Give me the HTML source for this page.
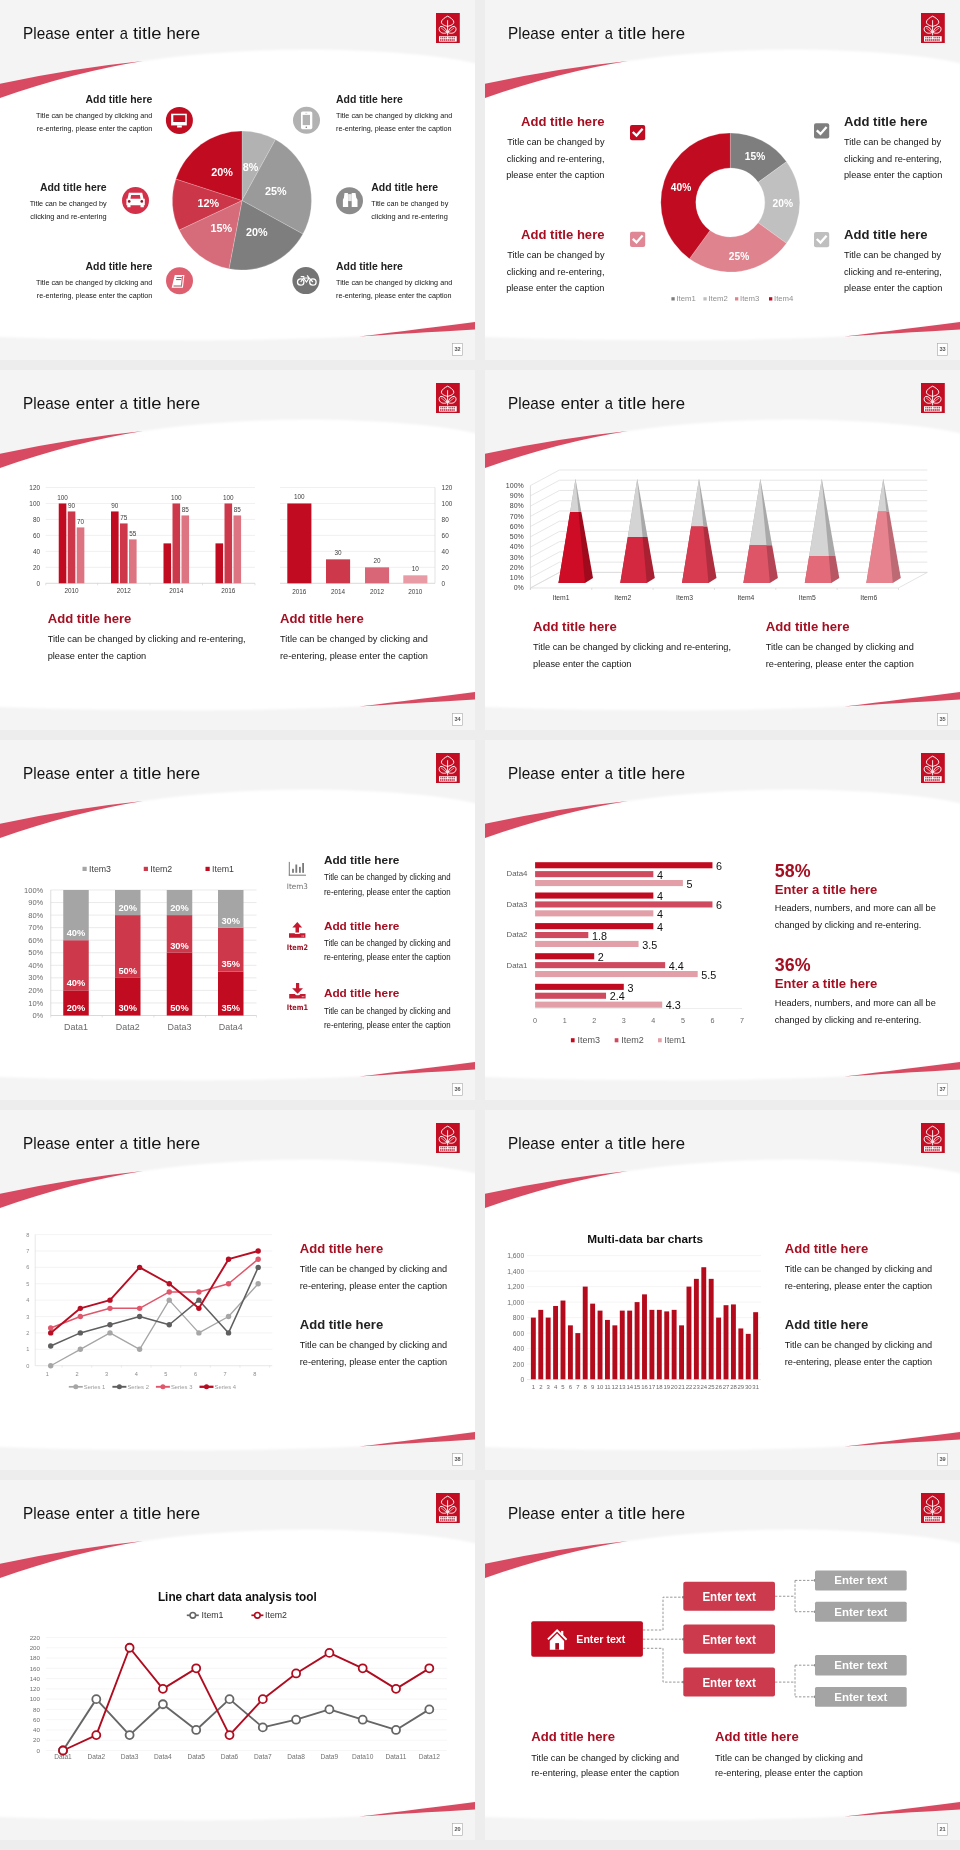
<!DOCTYPE html>
<html><head><meta charset="utf-8"><title>Slides</title><style>
html,body{margin:0;padding:0;}
body{width:960px;height:1850px;background:#ededed;position:relative;overflow:hidden;}
.s{position:absolute;display:block;will-change:transform;}
</style></head><body>
<svg class="s" style="left:0px;top:0px" width="475" height="360" viewBox="0 0 475 360"><rect x="0.00" y="0.00" width="475.00" height="360.00" fill="#f4f4f4"/><defs><filter id="sb32" x="-5%" y="-5%" width="110%" height="110%"><feGaussianBlur stdDeviation="0.9"/></filter></defs><path d="M-10,100.6 L0,98 Q75,72 143,61.1 C200,52 270,49 320,49.5 C380,50.5 440,55 475,63.2 L485,66 L485,320.7 L475,322 C430,328 390,334 359,336.6 C250,342 120,341 0,337 L-10,336.5 Z" fill="#ffffff" filter="url(#sb32)"/><path d="M0,83.7 Q75,68 143,61.1 Q75,72 0,98 Z" fill="#d84a61"/><path d="M359,336.6 C400,331.5 440,326.5 475,322 L475,329.6 C430,332.3 390,334.6 359,336.6 Z" fill="#d84a61"/><text y="38.75" font-size="17" fill="#111111" font-family="'Liberation Sans', Arial, sans-serif"><tspan x="23.1" textLength="46.8" lengthAdjust="spacingAndGlyphs">Please</tspan> <tspan x="75.7" textLength="38.75" lengthAdjust="spacingAndGlyphs">enter</tspan> <tspan x="119.7" textLength="8.2" lengthAdjust="spacingAndGlyphs">a</tspan> <tspan x="132.9" textLength="28.6" lengthAdjust="spacingAndGlyphs">title</tspan> <tspan x="166.4" textLength="33.6" lengthAdjust="spacingAndGlyphs">here</tspan></text><g transform="translate(436,13)"><rect x="0.00" y="0.00" width="23.80" height="30.00" fill="#c30d23"/><path d="M11.6,3.2 C9.0,4.4 5.6,6.6 5.3999999999999995,9 C5.3,11.2 8.2,12.6 11.6,13.4 C15.0,12.6 17.9,11.2 17.8,9 C17.6,6.6 14.2,4.4 11.6,3.2 Z" fill="none" fill="none" stroke="#ffffff" stroke-width="0.95"/><path d="M11.0,19.6 C8.1,21 4.0,20.2 3.1999999999999993,16.8 C3.0,14.8 4.0,13.3 5.0,13.3 C8.0,13.6 10.5,16 11.0,19.6 Z" fill="none" fill="none" stroke="#ffffff" stroke-width="0.95"/><path d="M12.2,19.6 C15.1,21 19.2,20.2 20.0,16.8 C20.2,14.8 19.2,13.3 18.2,13.3 C15.2,13.6 12.7,16 12.2,19.6 Z" fill="none" fill="none" stroke="#ffffff" stroke-width="0.95"/><line x1="11.60" y1="7.20" x2="11.60" y2="22.40" stroke="#ffffff" stroke-width="0.9"/><line x1="4.80" y1="14.60" x2="10.40" y2="19.20" stroke="#ffffff" stroke-width="0.6"/><line x1="18.40" y1="14.60" x2="12.80" y2="19.20" stroke="#ffffff" stroke-width="0.6"/><rect x="3.00" y="23.20" width="17.70" height="5.40" fill="#ffffff"/><rect x="4.2" y="23.8" width="1.3" height="1.6" fill="#c9475a"/><rect x="6.0" y="23.8" width="1.3" height="1.6" fill="#c9475a"/><rect x="7.8" y="23.8" width="1.3" height="1.6" fill="#c9475a"/><rect x="9.6" y="23.8" width="1.3" height="1.6" fill="#c9475a"/><rect x="12.4" y="23.8" width="1.3" height="1.6" fill="#c9475a"/><rect x="14.2" y="23.8" width="1.3" height="1.6" fill="#c9475a"/><rect x="16.0" y="23.8" width="1.3" height="1.6" fill="#c9475a"/><rect x="17.8" y="23.8" width="1.3" height="1.6" fill="#c9475a"/><rect x="4.0" y="26.1" width="1.5" height="1.8" fill="#c9475a"/><rect x="5.9" y="26.1" width="1.5" height="1.8" fill="#c9475a"/><rect x="7.8" y="26.1" width="1.5" height="1.8" fill="#c9475a"/><rect x="9.7" y="26.1" width="1.5" height="1.8" fill="#c9475a"/><rect x="11.6" y="26.1" width="1.5" height="1.8" fill="#c9475a"/><rect x="13.5" y="26.1" width="1.5" height="1.8" fill="#c9475a"/><rect x="15.4" y="26.1" width="1.5" height="1.8" fill="#c9475a"/><rect x="17.3" y="26.1" width="1.5" height="1.8" fill="#c9475a"/></g><rect x="452.60" y="343.40" width="9.90" height="12.00" fill="#ffffff" stroke="#a8a8a8" stroke-width="0.6"/><text x="457.55" y="350.90" font-size="5.6" font-weight="bold" text-anchor="middle" fill="#555555" font-family="'Liberation Sans', Arial, sans-serif">32</text><path d="M242.00,200.50 L242.00,131.00 A69.5,69.5 0 0 1 275.48,139.60 Z" fill="#b2b2b2" stroke="#ffffff" stroke-width="0.4" stroke-opacity="0.5"/><path d="M242.00,200.50 L275.48,139.60 A69.5,69.5 0 0 1 302.90,233.98 Z" fill="#9a9a9a" stroke="#ffffff" stroke-width="0.4" stroke-opacity="0.5"/><path d="M242.00,200.50 L302.90,233.98 A69.5,69.5 0 0 1 228.98,268.77 Z" fill="#7e7e7e" stroke="#ffffff" stroke-width="0.4" stroke-opacity="0.5"/><path d="M242.00,200.50 L228.98,268.77 A69.5,69.5 0 0 1 179.11,230.09 Z" fill="#d66b79" stroke="#ffffff" stroke-width="0.4" stroke-opacity="0.5"/><path d="M242.00,200.50 L179.11,230.09 A69.5,69.5 0 0 1 175.90,179.02 Z" fill="#cb3749" stroke="#ffffff" stroke-width="0.4" stroke-opacity="0.5"/><path d="M242.00,200.50 L175.90,179.02 A69.5,69.5 0 0 1 242.00,131.00 Z" fill="#c00b20" stroke="#ffffff" stroke-width="0.4" stroke-opacity="0.5"/><text x="222.00" y="175.80" font-size="10.8" font-weight="bold" text-anchor="middle" fill="#ffffff" font-family="'Liberation Sans', Arial, sans-serif">20%</text><text x="250.50" y="170.80" font-size="10.8" font-weight="bold" text-anchor="middle" fill="#ffffff" font-family="'Liberation Sans', Arial, sans-serif">8%</text><text x="275.80" y="194.80" font-size="10.8" font-weight="bold" text-anchor="middle" fill="#ffffff" font-family="'Liberation Sans', Arial, sans-serif">25%</text><text x="208.30" y="206.60" font-size="10.8" font-weight="bold" text-anchor="middle" fill="#ffffff" font-family="'Liberation Sans', Arial, sans-serif">12%</text><text x="221.20" y="232.30" font-size="10.8" font-weight="bold" text-anchor="middle" fill="#ffffff" font-family="'Liberation Sans', Arial, sans-serif">15%</text><text x="256.70" y="236.30" font-size="10.8" font-weight="bold" text-anchor="middle" fill="#ffffff" font-family="'Liberation Sans', Arial, sans-serif">20%</text><circle cx="179.40" cy="120.40" r="13.50" fill="#c10d22"/><g transform="translate(179.40,120.40)"><rect x="-8.30" y="-6.70" width="15.70" height="11.70" fill="#ffffff"/><rect x="-6.10" y="-5.20" width="12.00" height="6.80" fill="#c10d22"/><rect x="-2.30" y="5.00" width="4.70" height="2.10" fill="#ffffff"/></g><circle cx="135.50" cy="200.50" r="13.50" fill="#d3314a"/><g transform="translate(135.50,200.50)"><path d="M-6.6,-7.8 L6.7,-7.8 L8,-1.8 L9.3,-1.8 L9.3,4.7 L8.3,4.7 L8.3,6.7 L5,6.7 L5,4.7 L-5,4.7 L-5,6.7 L-8.2,6.7 L-8.2,4.7 L-9.1,4.7 L-9.1,-1.8 L-8,-1.8 Z" fill="#ffffff"/><path d="M-4.4,-5.5 L4.4,-5.5 L5,-1.8 L-5,-1.8 Z" fill="#d3314a"/><circle cx="-6.30" cy="0.90" r="1.35" fill="#8e1a2a"/><circle cx="6.30" cy="0.90" r="1.35" fill="#8e1a2a"/></g><circle cx="179.50" cy="280.70" r="13.50" fill="#de5f70"/><g transform="translate(179.50,280.70)"><path d="M-4.7,-5.7 L4.9,-5.7 L3.4,7.1 L-7.8,7.1 Z" fill="#ffffff"/><path d="M2.5,-4.6 L3.7,-4.6 L2.4,6.0 L1.2,6.0 Z" fill="#de5f70"/><line x1="-3.00" y1="-3.30" x2="2.30" y2="-3.30" stroke="#7a2a36" stroke-width="0.8"/><line x1="-3.40" y1="-1.10" x2="1.70" y2="-1.10" stroke="#7a2a36" stroke-width="0.8"/><line x1="-6.00" y1="5.30" x2="1.30" y2="5.30" stroke="#7a2a36" stroke-width="0.8"/></g><circle cx="306.50" cy="120.30" r="13.50" fill="#b2b2b2"/><g transform="translate(306.50,120.30)"><rect x="-5.50" y="-8.80" width="11.30" height="17.70" fill="#ffffff" rx="1.6"/><rect x="-3.80" y="-5.40" width="7.30" height="10.20" fill="#b2b2b2"/><circle cx="-0.20" cy="7.00" r="0.80" fill="#777777"/><line x1="-1.20" y1="-7.00" x2="0.80" y2="-7.00" stroke="#aaaaaa" stroke-width="0.5"/></g><circle cx="349.50" cy="200.70" r="13.50" fill="#8c8c8c"/><g transform="translate(349.50,200.70)"><path d="M-5,-7.8 L-1.6,-7.8 L-1.3,6.3 L-6.6,6.3 L-6.6,-1 L-5.6,-3 Z" fill="#ffffff"/><path d="M2.2,-7.8 L6,-7.8 L6.8,-3 L8,-1 L8,6.3 L2.2,6.3 Z" fill="#ffffff"/><rect x="-1.40" y="-6.60" width="3.70" height="7.00" fill="#e8e8e8"/></g><circle cx="305.90" cy="280.60" r="13.50" fill="#747474"/><g transform="translate(305.90,280.60)"><circle cx="-5.2" cy="1.4" r="3.2" fill="none" stroke="#ffffff" stroke-width="1.3"/><circle cx="7" cy="1.4" r="3.2" fill="none" stroke="#ffffff" stroke-width="1.3"/><path d="M-5.2,1.4 L-2.4,-2.6 L3.2,-2.6 L7,1.4 M-2.4,-2.6 L0.6,1.4 L3.2,-2.6 M-5.2,-3.9 L-1.6,-3.9 M1.2,-5.3 L3.2,-2.6" fill="none" stroke="#ffffff" stroke-width="1.2"/></g><text x="152.30" y="102.90" font-size="10.4" font-weight="bold" text-anchor="end" fill="#222222" textLength="66.8" lengthAdjust="spacingAndGlyphs" font-family="'Liberation Sans', Arial, sans-serif">Add title here</text><text x="152.30" y="117.90" font-size="7.7" text-anchor="end" fill="#161616" textLength="116.2" lengthAdjust="spacingAndGlyphs" font-family="'Liberation Sans', Arial, sans-serif">Title can be changed by clicking and</text><text x="152.30" y="131.10" font-size="7.7" text-anchor="end" fill="#161616" textLength="115.5" lengthAdjust="spacingAndGlyphs" font-family="'Liberation Sans', Arial, sans-serif">re-entering, please enter the caption</text><text x="106.70" y="191.00" font-size="10.4" font-weight="bold" text-anchor="end" fill="#222222" textLength="66.8" lengthAdjust="spacingAndGlyphs" font-family="'Liberation Sans', Arial, sans-serif">Add title here</text><text x="106.70" y="206.00" font-size="7.7" text-anchor="end" fill="#161616" textLength="77.0" lengthAdjust="spacingAndGlyphs" font-family="'Liberation Sans', Arial, sans-serif">Title can be changed by</text><text x="106.70" y="219.20" font-size="7.7" text-anchor="end" fill="#161616" textLength="76.5" lengthAdjust="spacingAndGlyphs" font-family="'Liberation Sans', Arial, sans-serif">clicking and re-entering</text><text x="152.30" y="269.70" font-size="10.4" font-weight="bold" text-anchor="end" fill="#222222" textLength="66.8" lengthAdjust="spacingAndGlyphs" font-family="'Liberation Sans', Arial, sans-serif">Add title here</text><text x="152.30" y="284.70" font-size="7.7" text-anchor="end" fill="#161616" textLength="116.2" lengthAdjust="spacingAndGlyphs" font-family="'Liberation Sans', Arial, sans-serif">Title can be changed by clicking and</text><text x="152.30" y="297.90" font-size="7.7" text-anchor="end" fill="#161616" textLength="115.5" lengthAdjust="spacingAndGlyphs" font-family="'Liberation Sans', Arial, sans-serif">re-entering, please enter the caption</text><text x="336.00" y="102.90" font-size="10.4" font-weight="bold" fill="#222222" textLength="66.8" lengthAdjust="spacingAndGlyphs" font-family="'Liberation Sans', Arial, sans-serif">Add title here</text><text x="336.00" y="117.90" font-size="7.7" fill="#161616" textLength="116.2" lengthAdjust="spacingAndGlyphs" font-family="'Liberation Sans', Arial, sans-serif">Title can be changed by clicking and</text><text x="336.00" y="131.10" font-size="7.7" fill="#161616" textLength="115.5" lengthAdjust="spacingAndGlyphs" font-family="'Liberation Sans', Arial, sans-serif">re-entering, please enter the caption</text><text x="371.30" y="191.00" font-size="10.4" font-weight="bold" fill="#222222" textLength="66.8" lengthAdjust="spacingAndGlyphs" font-family="'Liberation Sans', Arial, sans-serif">Add title here</text><text x="371.30" y="206.00" font-size="7.7" fill="#161616" textLength="77.0" lengthAdjust="spacingAndGlyphs" font-family="'Liberation Sans', Arial, sans-serif">Title can be changed by</text><text x="371.30" y="219.20" font-size="7.7" fill="#161616" textLength="76.5" lengthAdjust="spacingAndGlyphs" font-family="'Liberation Sans', Arial, sans-serif">clicking and re-entering</text><text x="336.00" y="269.70" font-size="10.4" font-weight="bold" fill="#222222" textLength="66.8" lengthAdjust="spacingAndGlyphs" font-family="'Liberation Sans', Arial, sans-serif">Add title here</text><text x="336.00" y="284.70" font-size="7.7" fill="#161616" textLength="116.2" lengthAdjust="spacingAndGlyphs" font-family="'Liberation Sans', Arial, sans-serif">Title can be changed by clicking and</text><text x="336.00" y="297.90" font-size="7.7" fill="#161616" textLength="115.5" lengthAdjust="spacingAndGlyphs" font-family="'Liberation Sans', Arial, sans-serif">re-entering, please enter the caption</text></svg>
<svg class="s" style="left:485px;top:0px" width="475" height="360" viewBox="0 0 475 360"><rect x="0.00" y="0.00" width="475.00" height="360.00" fill="#f4f4f4"/><defs><filter id="sb33" x="-5%" y="-5%" width="110%" height="110%"><feGaussianBlur stdDeviation="0.9"/></filter></defs><path d="M-10,100.6 L0,98 Q75,72 143,61.1 C200,52 270,49 320,49.5 C380,50.5 440,55 475,63.2 L485,66 L485,320.7 L475,322 C430,328 390,334 359,336.6 C250,342 120,341 0,337 L-10,336.5 Z" fill="#ffffff" filter="url(#sb33)"/><path d="M0,83.7 Q75,68 143,61.1 Q75,72 0,98 Z" fill="#d84a61"/><path d="M359,336.6 C400,331.5 440,326.5 475,322 L475,329.6 C430,332.3 390,334.6 359,336.6 Z" fill="#d84a61"/><text y="38.75" font-size="17" fill="#111111" font-family="'Liberation Sans', Arial, sans-serif"><tspan x="23.1" textLength="46.8" lengthAdjust="spacingAndGlyphs">Please</tspan> <tspan x="75.7" textLength="38.75" lengthAdjust="spacingAndGlyphs">enter</tspan> <tspan x="119.7" textLength="8.2" lengthAdjust="spacingAndGlyphs">a</tspan> <tspan x="132.9" textLength="28.6" lengthAdjust="spacingAndGlyphs">title</tspan> <tspan x="166.4" textLength="33.6" lengthAdjust="spacingAndGlyphs">here</tspan></text><g transform="translate(436,13)"><rect x="0.00" y="0.00" width="23.80" height="30.00" fill="#c30d23"/><path d="M11.6,3.2 C9.0,4.4 5.6,6.6 5.3999999999999995,9 C5.3,11.2 8.2,12.6 11.6,13.4 C15.0,12.6 17.9,11.2 17.8,9 C17.6,6.6 14.2,4.4 11.6,3.2 Z" fill="none" fill="none" stroke="#ffffff" stroke-width="0.95"/><path d="M11.0,19.6 C8.1,21 4.0,20.2 3.1999999999999993,16.8 C3.0,14.8 4.0,13.3 5.0,13.3 C8.0,13.6 10.5,16 11.0,19.6 Z" fill="none" fill="none" stroke="#ffffff" stroke-width="0.95"/><path d="M12.2,19.6 C15.1,21 19.2,20.2 20.0,16.8 C20.2,14.8 19.2,13.3 18.2,13.3 C15.2,13.6 12.7,16 12.2,19.6 Z" fill="none" fill="none" stroke="#ffffff" stroke-width="0.95"/><line x1="11.60" y1="7.20" x2="11.60" y2="22.40" stroke="#ffffff" stroke-width="0.9"/><line x1="4.80" y1="14.60" x2="10.40" y2="19.20" stroke="#ffffff" stroke-width="0.6"/><line x1="18.40" y1="14.60" x2="12.80" y2="19.20" stroke="#ffffff" stroke-width="0.6"/><rect x="3.00" y="23.20" width="17.70" height="5.40" fill="#ffffff"/><rect x="4.2" y="23.8" width="1.3" height="1.6" fill="#c9475a"/><rect x="6.0" y="23.8" width="1.3" height="1.6" fill="#c9475a"/><rect x="7.8" y="23.8" width="1.3" height="1.6" fill="#c9475a"/><rect x="9.6" y="23.8" width="1.3" height="1.6" fill="#c9475a"/><rect x="12.4" y="23.8" width="1.3" height="1.6" fill="#c9475a"/><rect x="14.2" y="23.8" width="1.3" height="1.6" fill="#c9475a"/><rect x="16.0" y="23.8" width="1.3" height="1.6" fill="#c9475a"/><rect x="17.8" y="23.8" width="1.3" height="1.6" fill="#c9475a"/><rect x="4.0" y="26.1" width="1.5" height="1.8" fill="#c9475a"/><rect x="5.9" y="26.1" width="1.5" height="1.8" fill="#c9475a"/><rect x="7.8" y="26.1" width="1.5" height="1.8" fill="#c9475a"/><rect x="9.7" y="26.1" width="1.5" height="1.8" fill="#c9475a"/><rect x="11.6" y="26.1" width="1.5" height="1.8" fill="#c9475a"/><rect x="13.5" y="26.1" width="1.5" height="1.8" fill="#c9475a"/><rect x="15.4" y="26.1" width="1.5" height="1.8" fill="#c9475a"/><rect x="17.3" y="26.1" width="1.5" height="1.8" fill="#c9475a"/></g><rect x="452.60" y="343.40" width="9.90" height="12.00" fill="#ffffff" stroke="#a8a8a8" stroke-width="0.6"/><text x="457.55" y="350.90" font-size="5.6" font-weight="bold" text-anchor="middle" fill="#555555" font-family="'Liberation Sans', Arial, sans-serif">33</text><path d="M245.30,133.00 A69.5,69.5 0 0 1 301.53,161.65 L273.21,182.22 A34.5,34.5 0 0 0 245.30,168.00 Z" fill="#7e7e7e" stroke="#ffffff" stroke-width="0.4" stroke-opacity="0.5"/><path d="M301.53,161.65 A69.5,69.5 0 0 1 301.53,243.35 L273.21,222.78 A34.5,34.5 0 0 0 273.21,182.22 Z" fill="#c0c0c0" stroke="#ffffff" stroke-width="0.4" stroke-opacity="0.5"/><path d="M301.53,243.35 A69.5,69.5 0 0 1 204.45,258.73 L225.02,230.41 A34.5,34.5 0 0 0 273.21,222.78 Z" fill="#df848f" stroke="#ffffff" stroke-width="0.4" stroke-opacity="0.5"/><path d="M204.45,258.73 A69.5,69.5 0 0 1 245.30,133.00 L245.30,168.00 A34.5,34.5 0 0 0 225.02,230.41 Z" fill="#c00b20" stroke="#ffffff" stroke-width="0.4" stroke-opacity="0.5"/><text x="270.00" y="160.00" font-size="10.2" font-weight="bold" text-anchor="middle" fill="#ffffff" font-family="'Liberation Sans', Arial, sans-serif">15%</text><text x="297.80" y="207.00" font-size="10.2" font-weight="bold" text-anchor="middle" fill="#ffffff" font-family="'Liberation Sans', Arial, sans-serif">20%</text><text x="254.00" y="259.50" font-size="10.2" font-weight="bold" text-anchor="middle" fill="#ffffff" font-family="'Liberation Sans', Arial, sans-serif">25%</text><text x="196.00" y="191.20" font-size="10.2" font-weight="bold" text-anchor="middle" fill="#ffffff" font-family="'Liberation Sans', Arial, sans-serif">40%</text><rect x="186.40" y="297.20" width="3.30" height="3.30" fill="#7e7e7e"/><text x="191.40" y="300.90" font-size="8" fill="#8f8f8f" textLength="19.4" lengthAdjust="spacingAndGlyphs" font-family="'Liberation Sans', Arial, sans-serif">Item1</text><rect x="218.40" y="297.20" width="3.30" height="3.30" fill="#c0c0c0"/><text x="223.40" y="300.90" font-size="8" fill="#8f8f8f" textLength="19.4" lengthAdjust="spacingAndGlyphs" font-family="'Liberation Sans', Arial, sans-serif">Item2</text><rect x="250.00" y="297.20" width="3.30" height="3.30" fill="#df848f"/><text x="255.00" y="300.90" font-size="8" fill="#8f8f8f" textLength="19.4" lengthAdjust="spacingAndGlyphs" font-family="'Liberation Sans', Arial, sans-serif">Item3</text><rect x="284.00" y="297.20" width="3.30" height="3.30" fill="#c00b20"/><text x="289.00" y="300.90" font-size="8" fill="#8f8f8f" textLength="19.4" lengthAdjust="spacingAndGlyphs" font-family="'Liberation Sans', Arial, sans-serif">Item4</text><text x="119.50" y="125.80" font-size="13.5" font-weight="bold" text-anchor="end" fill="#a50f22" textLength="83.5" lengthAdjust="spacingAndGlyphs" font-family="'Liberation Sans', Arial, sans-serif">Add title here</text><text x="119.50" y="145.00" font-size="9.4" text-anchor="end" fill="#161616" textLength="97.2" lengthAdjust="spacingAndGlyphs" font-family="'Liberation Sans', Arial, sans-serif">Title can be changed by</text><text x="119.50" y="161.60" font-size="9.4" text-anchor="end" fill="#161616" textLength="97.8" lengthAdjust="spacingAndGlyphs" font-family="'Liberation Sans', Arial, sans-serif">clicking and re-entering,</text><text x="119.50" y="178.20" font-size="9.4" text-anchor="end" fill="#161616" textLength="98.3" lengthAdjust="spacingAndGlyphs" font-family="'Liberation Sans', Arial, sans-serif">please enter the caption</text><text x="119.50" y="238.80" font-size="13.5" font-weight="bold" text-anchor="end" fill="#a50f22" textLength="83.5" lengthAdjust="spacingAndGlyphs" font-family="'Liberation Sans', Arial, sans-serif">Add title here</text><text x="119.50" y="258.00" font-size="9.4" text-anchor="end" fill="#161616" textLength="97.2" lengthAdjust="spacingAndGlyphs" font-family="'Liberation Sans', Arial, sans-serif">Title can be changed by</text><text x="119.50" y="274.60" font-size="9.4" text-anchor="end" fill="#161616" textLength="97.8" lengthAdjust="spacingAndGlyphs" font-family="'Liberation Sans', Arial, sans-serif">clicking and re-entering,</text><text x="119.50" y="291.20" font-size="9.4" text-anchor="end" fill="#161616" textLength="98.3" lengthAdjust="spacingAndGlyphs" font-family="'Liberation Sans', Arial, sans-serif">please enter the caption</text><text x="359.00" y="125.80" font-size="13.5" font-weight="bold" fill="#222222" textLength="83.5" lengthAdjust="spacingAndGlyphs" font-family="'Liberation Sans', Arial, sans-serif">Add title here</text><text x="359.00" y="145.00" font-size="9.4" fill="#161616" textLength="97.2" lengthAdjust="spacingAndGlyphs" font-family="'Liberation Sans', Arial, sans-serif">Title can be changed by</text><text x="359.00" y="161.60" font-size="9.4" fill="#161616" textLength="97.8" lengthAdjust="spacingAndGlyphs" font-family="'Liberation Sans', Arial, sans-serif">clicking and re-entering,</text><text x="359.00" y="178.20" font-size="9.4" fill="#161616" textLength="98.3" lengthAdjust="spacingAndGlyphs" font-family="'Liberation Sans', Arial, sans-serif">please enter the caption</text><text x="359.00" y="238.70" font-size="13.5" font-weight="bold" fill="#222222" textLength="83.5" lengthAdjust="spacingAndGlyphs" font-family="'Liberation Sans', Arial, sans-serif">Add title here</text><text x="359.00" y="257.90" font-size="9.4" fill="#161616" textLength="97.2" lengthAdjust="spacingAndGlyphs" font-family="'Liberation Sans', Arial, sans-serif">Title can be changed by</text><text x="359.00" y="274.50" font-size="9.4" fill="#161616" textLength="97.8" lengthAdjust="spacingAndGlyphs" font-family="'Liberation Sans', Arial, sans-serif">clicking and re-entering,</text><text x="359.00" y="291.10" font-size="9.4" fill="#161616" textLength="98.3" lengthAdjust="spacingAndGlyphs" font-family="'Liberation Sans', Arial, sans-serif">please enter the caption</text><rect x="145.00" y="125.00" width="15.20" height="15.20" fill="#c00b20" rx="2"/><path d="M148.60,132.80 L151.50,135.60 L156.80,129.60" fill="none" stroke="#ffffff" stroke-width="2.3" stroke-linecap="square"/><rect x="145.00" y="231.80" width="15.20" height="15.20" fill="#df8794" rx="2"/><path d="M148.60,239.60 L151.50,242.40 L156.80,236.40" fill="none" stroke="#ffffff" stroke-width="2.3" stroke-linecap="square"/><rect x="329.00" y="123.30" width="15.20" height="15.20" fill="#7f7f7f" rx="2"/><path d="M332.60,131.10 L335.50,133.90 L340.80,127.90" fill="none" stroke="#ffffff" stroke-width="2.3" stroke-linecap="square"/><rect x="329.00" y="232.00" width="15.20" height="15.20" fill="#bfbfbf" rx="2"/><path d="M332.60,239.80 L335.50,242.60 L340.80,236.60" fill="none" stroke="#ffffff" stroke-width="2.3" stroke-linecap="square"/></svg>
<svg class="s" style="left:0px;top:370px" width="475" height="360" viewBox="0 0 475 360"><rect x="0.00" y="0.00" width="475.00" height="360.00" fill="#f4f4f4"/><defs><filter id="sb34" x="-5%" y="-5%" width="110%" height="110%"><feGaussianBlur stdDeviation="0.9"/></filter></defs><path d="M-10,100.6 L0,98 Q75,72 143,61.1 C200,52 270,49 320,49.5 C380,50.5 440,55 475,63.2 L485,66 L485,320.7 L475,322 C430,328 390,334 359,336.6 C250,342 120,341 0,337 L-10,336.5 Z" fill="#ffffff" filter="url(#sb34)"/><path d="M0,83.7 Q75,68 143,61.1 Q75,72 0,98 Z" fill="#d84a61"/><path d="M359,336.6 C400,331.5 440,326.5 475,322 L475,329.6 C430,332.3 390,334.6 359,336.6 Z" fill="#d84a61"/><text y="38.75" font-size="17" fill="#111111" font-family="'Liberation Sans', Arial, sans-serif"><tspan x="23.1" textLength="46.8" lengthAdjust="spacingAndGlyphs">Please</tspan> <tspan x="75.7" textLength="38.75" lengthAdjust="spacingAndGlyphs">enter</tspan> <tspan x="119.7" textLength="8.2" lengthAdjust="spacingAndGlyphs">a</tspan> <tspan x="132.9" textLength="28.6" lengthAdjust="spacingAndGlyphs">title</tspan> <tspan x="166.4" textLength="33.6" lengthAdjust="spacingAndGlyphs">here</tspan></text><g transform="translate(436,13)"><rect x="0.00" y="0.00" width="23.80" height="30.00" fill="#c30d23"/><path d="M11.6,3.2 C9.0,4.4 5.6,6.6 5.3999999999999995,9 C5.3,11.2 8.2,12.6 11.6,13.4 C15.0,12.6 17.9,11.2 17.8,9 C17.6,6.6 14.2,4.4 11.6,3.2 Z" fill="none" fill="none" stroke="#ffffff" stroke-width="0.95"/><path d="M11.0,19.6 C8.1,21 4.0,20.2 3.1999999999999993,16.8 C3.0,14.8 4.0,13.3 5.0,13.3 C8.0,13.6 10.5,16 11.0,19.6 Z" fill="none" fill="none" stroke="#ffffff" stroke-width="0.95"/><path d="M12.2,19.6 C15.1,21 19.2,20.2 20.0,16.8 C20.2,14.8 19.2,13.3 18.2,13.3 C15.2,13.6 12.7,16 12.2,19.6 Z" fill="none" fill="none" stroke="#ffffff" stroke-width="0.95"/><line x1="11.60" y1="7.20" x2="11.60" y2="22.40" stroke="#ffffff" stroke-width="0.9"/><line x1="4.80" y1="14.60" x2="10.40" y2="19.20" stroke="#ffffff" stroke-width="0.6"/><line x1="18.40" y1="14.60" x2="12.80" y2="19.20" stroke="#ffffff" stroke-width="0.6"/><rect x="3.00" y="23.20" width="17.70" height="5.40" fill="#ffffff"/><rect x="4.2" y="23.8" width="1.3" height="1.6" fill="#c9475a"/><rect x="6.0" y="23.8" width="1.3" height="1.6" fill="#c9475a"/><rect x="7.8" y="23.8" width="1.3" height="1.6" fill="#c9475a"/><rect x="9.6" y="23.8" width="1.3" height="1.6" fill="#c9475a"/><rect x="12.4" y="23.8" width="1.3" height="1.6" fill="#c9475a"/><rect x="14.2" y="23.8" width="1.3" height="1.6" fill="#c9475a"/><rect x="16.0" y="23.8" width="1.3" height="1.6" fill="#c9475a"/><rect x="17.8" y="23.8" width="1.3" height="1.6" fill="#c9475a"/><rect x="4.0" y="26.1" width="1.5" height="1.8" fill="#c9475a"/><rect x="5.9" y="26.1" width="1.5" height="1.8" fill="#c9475a"/><rect x="7.8" y="26.1" width="1.5" height="1.8" fill="#c9475a"/><rect x="9.7" y="26.1" width="1.5" height="1.8" fill="#c9475a"/><rect x="11.6" y="26.1" width="1.5" height="1.8" fill="#c9475a"/><rect x="13.5" y="26.1" width="1.5" height="1.8" fill="#c9475a"/><rect x="15.4" y="26.1" width="1.5" height="1.8" fill="#c9475a"/><rect x="17.3" y="26.1" width="1.5" height="1.8" fill="#c9475a"/></g><rect x="452.60" y="343.40" width="9.90" height="12.00" fill="#ffffff" stroke="#a8a8a8" stroke-width="0.6"/><text x="457.55" y="350.90" font-size="5.6" font-weight="bold" text-anchor="middle" fill="#555555" font-family="'Liberation Sans', Arial, sans-serif">34</text><text x="40.00" y="215.60" font-size="6.4" text-anchor="end" fill="#404040" font-family="'Liberation Sans', Arial, sans-serif">0</text><line x1="45.75" y1="197.33" x2="255.00" y2="197.33" stroke="#e6e6e6" stroke-width="0.6"/><text x="40.00" y="199.63" font-size="6.4" text-anchor="end" fill="#404040" font-family="'Liberation Sans', Arial, sans-serif">20</text><line x1="45.75" y1="181.37" x2="255.00" y2="181.37" stroke="#e6e6e6" stroke-width="0.6"/><text x="40.00" y="183.67" font-size="6.4" text-anchor="end" fill="#404040" font-family="'Liberation Sans', Arial, sans-serif">40</text><line x1="45.75" y1="165.40" x2="255.00" y2="165.40" stroke="#e6e6e6" stroke-width="0.6"/><text x="40.00" y="167.70" font-size="6.4" text-anchor="end" fill="#404040" font-family="'Liberation Sans', Arial, sans-serif">60</text><line x1="45.75" y1="149.43" x2="255.00" y2="149.43" stroke="#e6e6e6" stroke-width="0.6"/><text x="40.00" y="151.73" font-size="6.4" text-anchor="end" fill="#404040" font-family="'Liberation Sans', Arial, sans-serif">80</text><line x1="45.75" y1="133.47" x2="255.00" y2="133.47" stroke="#e6e6e6" stroke-width="0.6"/><text x="40.00" y="135.77" font-size="6.4" text-anchor="end" fill="#404040" font-family="'Liberation Sans', Arial, sans-serif">100</text><line x1="45.75" y1="117.50" x2="255.00" y2="117.50" stroke="#e6e6e6" stroke-width="0.6"/><text x="40.00" y="119.80" font-size="6.4" text-anchor="end" fill="#404040" font-family="'Liberation Sans', Arial, sans-serif">120</text><line x1="45.75" y1="213.30" x2="255.00" y2="213.30" stroke="#d0d0d0" stroke-width="0.8"/><line x1="45.75" y1="213.30" x2="45.75" y2="215.30" stroke="#d0d0d0" stroke-width="0.6"/><line x1="97.60" y1="213.30" x2="97.60" y2="215.30" stroke="#d0d0d0" stroke-width="0.6"/><line x1="150.00" y1="213.30" x2="150.00" y2="215.30" stroke="#d0d0d0" stroke-width="0.6"/><line x1="202.50" y1="213.30" x2="202.50" y2="215.30" stroke="#d0d0d0" stroke-width="0.6"/><line x1="255.00" y1="213.30" x2="255.00" y2="215.30" stroke="#d0d0d0" stroke-width="0.6"/><rect x="58.75" y="133.47" width="7.60" height="79.83" fill="#c00b20"/><text x="62.55" y="130.27" font-size="6.4" text-anchor="middle" fill="#404040" font-family="'Liberation Sans', Arial, sans-serif">100</text><rect x="67.75" y="141.45" width="7.60" height="71.85" fill="#cd384b"/><text x="71.55" y="138.25" font-size="6.4" text-anchor="middle" fill="#404040" font-family="'Liberation Sans', Arial, sans-serif">90</text><rect x="76.75" y="157.42" width="7.60" height="55.88" fill="#dc7482"/><text x="80.55" y="154.22" font-size="6.4" text-anchor="middle" fill="#404040" font-family="'Liberation Sans', Arial, sans-serif">70</text><text x="71.50" y="222.50" font-size="6.4" text-anchor="middle" fill="#404040" font-family="'Liberation Sans', Arial, sans-serif">2010</text><rect x="111.00" y="141.45" width="7.60" height="71.85" fill="#c00b20"/><text x="114.80" y="138.25" font-size="6.4" text-anchor="middle" fill="#404040" font-family="'Liberation Sans', Arial, sans-serif">90</text><rect x="120.00" y="153.43" width="7.60" height="59.88" fill="#cd384b"/><text x="123.80" y="150.23" font-size="6.4" text-anchor="middle" fill="#404040" font-family="'Liberation Sans', Arial, sans-serif">75</text><rect x="129.00" y="169.39" width="7.60" height="43.91" fill="#dc7482"/><text x="132.80" y="166.19" font-size="6.4" text-anchor="middle" fill="#404040" font-family="'Liberation Sans', Arial, sans-serif">55</text><text x="123.75" y="222.50" font-size="6.4" text-anchor="middle" fill="#404040" font-family="'Liberation Sans', Arial, sans-serif">2012</text><rect x="163.50" y="173.38" width="7.60" height="39.92" fill="#c00b20"/><rect x="172.50" y="133.47" width="7.60" height="79.83" fill="#cd384b"/><text x="176.30" y="130.27" font-size="6.4" text-anchor="middle" fill="#404040" font-family="'Liberation Sans', Arial, sans-serif">100</text><rect x="181.50" y="145.44" width="7.60" height="67.86" fill="#dc7482"/><text x="185.30" y="142.24" font-size="6.4" text-anchor="middle" fill="#404040" font-family="'Liberation Sans', Arial, sans-serif">85</text><text x="176.25" y="222.50" font-size="6.4" text-anchor="middle" fill="#404040" font-family="'Liberation Sans', Arial, sans-serif">2014</text><rect x="215.50" y="173.38" width="7.60" height="39.92" fill="#c00b20"/><rect x="224.50" y="133.47" width="7.60" height="79.83" fill="#cd384b"/><text x="228.30" y="130.27" font-size="6.4" text-anchor="middle" fill="#404040" font-family="'Liberation Sans', Arial, sans-serif">100</text><rect x="233.50" y="145.44" width="7.60" height="67.86" fill="#dc7482"/><text x="237.30" y="142.24" font-size="6.4" text-anchor="middle" fill="#404040" font-family="'Liberation Sans', Arial, sans-serif">85</text><text x="228.25" y="222.50" font-size="6.4" text-anchor="middle" fill="#404040" font-family="'Liberation Sans', Arial, sans-serif">2016</text><text x="441.60" y="215.60" font-size="6.4" fill="#404040" font-family="'Liberation Sans', Arial, sans-serif">0</text><line x1="280.00" y1="197.33" x2="435.00" y2="197.33" stroke="#e6e6e6" stroke-width="0.6"/><text x="441.60" y="199.63" font-size="6.4" fill="#404040" font-family="'Liberation Sans', Arial, sans-serif">20</text><line x1="280.00" y1="181.37" x2="435.00" y2="181.37" stroke="#e6e6e6" stroke-width="0.6"/><text x="441.60" y="183.67" font-size="6.4" fill="#404040" font-family="'Liberation Sans', Arial, sans-serif">40</text><line x1="280.00" y1="165.40" x2="435.00" y2="165.40" stroke="#e6e6e6" stroke-width="0.6"/><text x="441.60" y="167.70" font-size="6.4" fill="#404040" font-family="'Liberation Sans', Arial, sans-serif">60</text><line x1="280.00" y1="149.43" x2="435.00" y2="149.43" stroke="#e6e6e6" stroke-width="0.6"/><text x="441.60" y="151.73" font-size="6.4" fill="#404040" font-family="'Liberation Sans', Arial, sans-serif">80</text><line x1="280.00" y1="133.47" x2="435.00" y2="133.47" stroke="#e6e6e6" stroke-width="0.6"/><text x="441.60" y="135.77" font-size="6.4" fill="#404040" font-family="'Liberation Sans', Arial, sans-serif">100</text><line x1="280.00" y1="117.50" x2="435.00" y2="117.50" stroke="#e6e6e6" stroke-width="0.6"/><text x="441.60" y="119.80" font-size="6.4" fill="#404040" font-family="'Liberation Sans', Arial, sans-serif">120</text><line x1="280.00" y1="213.30" x2="435.00" y2="213.30" stroke="#d0d0d0" stroke-width="0.8"/><line x1="435.00" y1="117.50" x2="435.00" y2="213.30" stroke="#d0d0d0" stroke-width="0.6"/><rect x="287.30" y="133.47" width="24.10" height="79.83" fill="#c00b20"/><text x="299.30" y="128.97" font-size="6.4" text-anchor="middle" fill="#404040" font-family="'Liberation Sans', Arial, sans-serif">100</text><text x="299.30" y="223.80" font-size="6.4" text-anchor="middle" fill="#404040" font-family="'Liberation Sans', Arial, sans-serif">2016</text><rect x="326.00" y="189.35" width="24.10" height="23.95" fill="#cd384b"/><text x="338.00" y="184.85" font-size="6.4" text-anchor="middle" fill="#404040" font-family="'Liberation Sans', Arial, sans-serif">30</text><text x="338.00" y="223.80" font-size="6.4" text-anchor="middle" fill="#404040" font-family="'Liberation Sans', Arial, sans-serif">2014</text><rect x="365.00" y="197.33" width="24.10" height="15.97" fill="#d96676"/><text x="377.00" y="192.83" font-size="6.4" text-anchor="middle" fill="#404040" font-family="'Liberation Sans', Arial, sans-serif">20</text><text x="377.00" y="223.80" font-size="6.4" text-anchor="middle" fill="#404040" font-family="'Liberation Sans', Arial, sans-serif">2012</text><rect x="403.30" y="205.32" width="24.10" height="7.98" fill="#e89ba5"/><text x="415.30" y="200.82" font-size="6.4" text-anchor="middle" fill="#404040" font-family="'Liberation Sans', Arial, sans-serif">10</text><text x="415.30" y="223.80" font-size="6.4" text-anchor="middle" fill="#404040" font-family="'Liberation Sans', Arial, sans-serif">2010</text><text x="47.70" y="253.00" font-size="13.5" font-weight="bold" fill="#a50f22" textLength="83.7" lengthAdjust="spacingAndGlyphs" font-family="'Liberation Sans', Arial, sans-serif">Add title here</text><text x="47.70" y="272.20" font-size="9.5" fill="#161616" textLength="198.0" lengthAdjust="spacingAndGlyphs" font-family="'Liberation Sans', Arial, sans-serif">Title can be changed by clicking and re-entering,</text><text x="47.70" y="288.60" font-size="9.5" fill="#161616" textLength="98.5" lengthAdjust="spacingAndGlyphs" font-family="'Liberation Sans', Arial, sans-serif">please enter the caption</text><text x="280.00" y="253.00" font-size="13.5" font-weight="bold" fill="#a50f22" textLength="83.7" lengthAdjust="spacingAndGlyphs" font-family="'Liberation Sans', Arial, sans-serif">Add title here</text><text x="280.00" y="272.20" font-size="9.5" fill="#161616" textLength="148.0" lengthAdjust="spacingAndGlyphs" font-family="'Liberation Sans', Arial, sans-serif">Title can be changed by clicking and</text><text x="280.00" y="288.60" font-size="9.5" fill="#161616" textLength="148.0" lengthAdjust="spacingAndGlyphs" font-family="'Liberation Sans', Arial, sans-serif">re-entering, please enter the caption</text></svg>
<svg class="s" style="left:485px;top:370px" width="475" height="360" viewBox="0 0 475 360"><rect x="0.00" y="0.00" width="475.00" height="360.00" fill="#f4f4f4"/><defs><filter id="sb35" x="-5%" y="-5%" width="110%" height="110%"><feGaussianBlur stdDeviation="0.9"/></filter></defs><path d="M-10,100.6 L0,98 Q75,72 143,61.1 C200,52 270,49 320,49.5 C380,50.5 440,55 475,63.2 L485,66 L485,320.7 L475,322 C430,328 390,334 359,336.6 C250,342 120,341 0,337 L-10,336.5 Z" fill="#ffffff" filter="url(#sb35)"/><path d="M0,83.7 Q75,68 143,61.1 Q75,72 0,98 Z" fill="#d84a61"/><path d="M359,336.6 C400,331.5 440,326.5 475,322 L475,329.6 C430,332.3 390,334.6 359,336.6 Z" fill="#d84a61"/><text y="38.75" font-size="17" fill="#111111" font-family="'Liberation Sans', Arial, sans-serif"><tspan x="23.1" textLength="46.8" lengthAdjust="spacingAndGlyphs">Please</tspan> <tspan x="75.7" textLength="38.75" lengthAdjust="spacingAndGlyphs">enter</tspan> <tspan x="119.7" textLength="8.2" lengthAdjust="spacingAndGlyphs">a</tspan> <tspan x="132.9" textLength="28.6" lengthAdjust="spacingAndGlyphs">title</tspan> <tspan x="166.4" textLength="33.6" lengthAdjust="spacingAndGlyphs">here</tspan></text><g transform="translate(436,13)"><rect x="0.00" y="0.00" width="23.80" height="30.00" fill="#c30d23"/><path d="M11.6,3.2 C9.0,4.4 5.6,6.6 5.3999999999999995,9 C5.3,11.2 8.2,12.6 11.6,13.4 C15.0,12.6 17.9,11.2 17.8,9 C17.6,6.6 14.2,4.4 11.6,3.2 Z" fill="none" fill="none" stroke="#ffffff" stroke-width="0.95"/><path d="M11.0,19.6 C8.1,21 4.0,20.2 3.1999999999999993,16.8 C3.0,14.8 4.0,13.3 5.0,13.3 C8.0,13.6 10.5,16 11.0,19.6 Z" fill="none" fill="none" stroke="#ffffff" stroke-width="0.95"/><path d="M12.2,19.6 C15.1,21 19.2,20.2 20.0,16.8 C20.2,14.8 19.2,13.3 18.2,13.3 C15.2,13.6 12.7,16 12.2,19.6 Z" fill="none" fill="none" stroke="#ffffff" stroke-width="0.95"/><line x1="11.60" y1="7.20" x2="11.60" y2="22.40" stroke="#ffffff" stroke-width="0.9"/><line x1="4.80" y1="14.60" x2="10.40" y2="19.20" stroke="#ffffff" stroke-width="0.6"/><line x1="18.40" y1="14.60" x2="12.80" y2="19.20" stroke="#ffffff" stroke-width="0.6"/><rect x="3.00" y="23.20" width="17.70" height="5.40" fill="#ffffff"/><rect x="4.2" y="23.8" width="1.3" height="1.6" fill="#c9475a"/><rect x="6.0" y="23.8" width="1.3" height="1.6" fill="#c9475a"/><rect x="7.8" y="23.8" width="1.3" height="1.6" fill="#c9475a"/><rect x="9.6" y="23.8" width="1.3" height="1.6" fill="#c9475a"/><rect x="12.4" y="23.8" width="1.3" height="1.6" fill="#c9475a"/><rect x="14.2" y="23.8" width="1.3" height="1.6" fill="#c9475a"/><rect x="16.0" y="23.8" width="1.3" height="1.6" fill="#c9475a"/><rect x="17.8" y="23.8" width="1.3" height="1.6" fill="#c9475a"/><rect x="4.0" y="26.1" width="1.5" height="1.8" fill="#c9475a"/><rect x="5.9" y="26.1" width="1.5" height="1.8" fill="#c9475a"/><rect x="7.8" y="26.1" width="1.5" height="1.8" fill="#c9475a"/><rect x="9.7" y="26.1" width="1.5" height="1.8" fill="#c9475a"/><rect x="11.6" y="26.1" width="1.5" height="1.8" fill="#c9475a"/><rect x="13.5" y="26.1" width="1.5" height="1.8" fill="#c9475a"/><rect x="15.4" y="26.1" width="1.5" height="1.8" fill="#c9475a"/><rect x="17.3" y="26.1" width="1.5" height="1.8" fill="#c9475a"/></g><rect x="452.60" y="343.40" width="9.90" height="12.00" fill="#ffffff" stroke="#a8a8a8" stroke-width="0.6"/><text x="457.55" y="350.90" font-size="5.6" font-weight="bold" text-anchor="middle" fill="#555555" font-family="'Liberation Sans', Arial, sans-serif">35</text><line x1="74.40" y1="202.40" x2="442.30" y2="202.40" stroke="#dcdcdc" stroke-width="0.7"/><line x1="45.40" y1="218.00" x2="74.40" y2="202.40" stroke="#dcdcdc" stroke-width="0.7"/><text x="38.75" y="220.40" font-size="7" text-anchor="end" fill="#404040" font-family="'Liberation Sans', Arial, sans-serif">0%</text><line x1="74.40" y1="192.16" x2="442.30" y2="192.16" stroke="#dcdcdc" stroke-width="0.7"/><line x1="45.40" y1="207.76" x2="74.40" y2="192.16" stroke="#dcdcdc" stroke-width="0.7"/><text x="38.75" y="210.16" font-size="7" text-anchor="end" fill="#404040" font-family="'Liberation Sans', Arial, sans-serif">10%</text><line x1="74.40" y1="181.92" x2="442.30" y2="181.92" stroke="#dcdcdc" stroke-width="0.7"/><line x1="45.40" y1="197.52" x2="74.40" y2="181.92" stroke="#dcdcdc" stroke-width="0.7"/><text x="38.75" y="199.92" font-size="7" text-anchor="end" fill="#404040" font-family="'Liberation Sans', Arial, sans-serif">20%</text><line x1="74.40" y1="171.68" x2="442.30" y2="171.68" stroke="#dcdcdc" stroke-width="0.7"/><line x1="45.40" y1="187.28" x2="74.40" y2="171.68" stroke="#dcdcdc" stroke-width="0.7"/><text x="38.75" y="189.68" font-size="7" text-anchor="end" fill="#404040" font-family="'Liberation Sans', Arial, sans-serif">30%</text><line x1="74.40" y1="161.44" x2="442.30" y2="161.44" stroke="#dcdcdc" stroke-width="0.7"/><line x1="45.40" y1="177.04" x2="74.40" y2="161.44" stroke="#dcdcdc" stroke-width="0.7"/><text x="38.75" y="179.44" font-size="7" text-anchor="end" fill="#404040" font-family="'Liberation Sans', Arial, sans-serif">40%</text><line x1="74.40" y1="151.20" x2="442.30" y2="151.20" stroke="#dcdcdc" stroke-width="0.7"/><line x1="45.40" y1="166.80" x2="74.40" y2="151.20" stroke="#dcdcdc" stroke-width="0.7"/><text x="38.75" y="169.20" font-size="7" text-anchor="end" fill="#404040" font-family="'Liberation Sans', Arial, sans-serif">50%</text><line x1="74.40" y1="140.96" x2="442.30" y2="140.96" stroke="#dcdcdc" stroke-width="0.7"/><line x1="45.40" y1="156.56" x2="74.40" y2="140.96" stroke="#dcdcdc" stroke-width="0.7"/><text x="38.75" y="158.96" font-size="7" text-anchor="end" fill="#404040" font-family="'Liberation Sans', Arial, sans-serif">60%</text><line x1="74.40" y1="130.72" x2="442.30" y2="130.72" stroke="#dcdcdc" stroke-width="0.7"/><line x1="45.40" y1="146.32" x2="74.40" y2="130.72" stroke="#dcdcdc" stroke-width="0.7"/><text x="38.75" y="148.72" font-size="7" text-anchor="end" fill="#404040" font-family="'Liberation Sans', Arial, sans-serif">70%</text><line x1="74.40" y1="120.48" x2="442.30" y2="120.48" stroke="#dcdcdc" stroke-width="0.7"/><line x1="45.40" y1="136.08" x2="74.40" y2="120.48" stroke="#dcdcdc" stroke-width="0.7"/><text x="38.75" y="138.48" font-size="7" text-anchor="end" fill="#404040" font-family="'Liberation Sans', Arial, sans-serif">80%</text><line x1="74.40" y1="110.24" x2="442.30" y2="110.24" stroke="#dcdcdc" stroke-width="0.7"/><line x1="45.40" y1="125.84" x2="74.40" y2="110.24" stroke="#dcdcdc" stroke-width="0.7"/><text x="38.75" y="128.24" font-size="7" text-anchor="end" fill="#404040" font-family="'Liberation Sans', Arial, sans-serif">90%</text><line x1="74.40" y1="100.00" x2="442.30" y2="100.00" stroke="#dcdcdc" stroke-width="0.7"/><line x1="45.40" y1="115.60" x2="74.40" y2="100.00" stroke="#dcdcdc" stroke-width="0.7"/><text x="38.75" y="118.00" font-size="7" text-anchor="end" fill="#404040" font-family="'Liberation Sans', Arial, sans-serif">100%</text><line x1="45.40" y1="115.60" x2="45.40" y2="220.00" stroke="#d0d0d0" stroke-width="0.7"/><path d="M45.4,218.0 L74.4,202.4 L442.3,202.4 L413.3,218.0 Z" fill="none" stroke="#d8d8d8" stroke-width="0.7"/><line x1="45.40" y1="218.00" x2="45.40" y2="220.00" stroke="#d0d0d0" stroke-width="0.6"/><line x1="106.75" y1="218.00" x2="106.75" y2="220.00" stroke="#d0d0d0" stroke-width="0.6"/><line x1="168.10" y1="218.00" x2="168.10" y2="220.00" stroke="#d0d0d0" stroke-width="0.6"/><line x1="229.45" y1="218.00" x2="229.45" y2="220.00" stroke="#d0d0d0" stroke-width="0.6"/><line x1="290.80" y1="218.00" x2="290.80" y2="220.00" stroke="#d0d0d0" stroke-width="0.6"/><line x1="352.15" y1="218.00" x2="352.15" y2="220.00" stroke="#d0d0d0" stroke-width="0.6"/><line x1="413.50" y1="218.00" x2="413.50" y2="220.00" stroke="#d0d0d0" stroke-width="0.6"/><path d="M85.10,141.90 L90.5,108.8 L96.34,141.90 L93.52,141.90 Z" fill="#a9a9a9"/><path d="M85.10,141.90 L90.5,108.8 L93.52,141.90 Z" fill="#d4d4d4"/><path d="M73.5,213.0 L100.0,213.0 L108.0,208.0 L96.34,141.90 L93.52,141.90 L85.10,141.90 Z" fill="#a00a1d"/><path d="M73.5,213.0 L100.0,213.0 L93.52,141.90 L85.10,141.90 Z" fill="#cf0c25"/><text x="67.50" y="229.80" font-size="6.8" fill="#404040" font-family="'Liberation Sans', Arial, sans-serif">Item1</text><path d="M142.82,166.90 L152.3,108.8 L162.55,166.90 L157.60,166.90 Z" fill="#a9a9a9"/><path d="M142.82,166.90 L152.3,108.8 L157.60,166.90 Z" fill="#d4d4d4"/><path d="M135.3,213.0 L161.8,213.0 L169.8,208.0 L162.55,166.90 L157.60,166.90 L142.82,166.90 Z" fill="#a82032"/><path d="M135.3,213.0 L161.8,213.0 L157.60,166.90 L142.82,166.90 Z" fill="#d42840"/><text x="129.30" y="229.80" font-size="6.8" fill="#404040" font-family="'Liberation Sans', Arial, sans-serif">Item2</text><path d="M206.20,156.60 L214,108.8 L222.43,156.60 L218.36,156.60 Z" fill="#a9a9a9"/><path d="M206.20,156.60 L214,108.8 L218.36,156.60 Z" fill="#d4d4d4"/><path d="M197,213.0 L223.5,213.0 L231.5,208.0 L222.43,156.60 L218.36,156.60 L206.20,156.60 Z" fill="#ae2e40"/><path d="M197,213.0 L223.5,213.0 L218.36,156.60 L206.20,156.60 Z" fill="#d83a4f"/><text x="191.00" y="229.80" font-size="6.8" fill="#404040" font-family="'Liberation Sans', Arial, sans-serif">Item3</text><path d="M264.55,175.30 L275.4,108.8 L287.13,175.30 L281.46,175.30 Z" fill="#a9a9a9"/><path d="M264.55,175.30 L275.4,108.8 L281.46,175.30 Z" fill="#d4d4d4"/><path d="M258.4,213.0 L284.9,213.0 L292.9,208.0 L287.13,175.30 L281.46,175.30 L264.55,175.30 Z" fill="#b44454"/><path d="M258.4,213.0 L284.9,213.0 L281.46,175.30 L264.55,175.30 Z" fill="#dd5566"/><text x="252.40" y="229.80" font-size="6.8" fill="#404040" font-family="'Liberation Sans', Arial, sans-serif">Item4</text><path d="M324.20,186.00 L336.8,108.8 L350.42,186.00 L343.84,186.00 Z" fill="#a9a9a9"/><path d="M324.20,186.00 L336.8,108.8 L343.84,186.00 Z" fill="#d4d4d4"/><path d="M319.8,213.0 L346.3,213.0 L354.3,208.0 L350.42,186.00 L343.84,186.00 L324.20,186.00 Z" fill="#b85664"/><path d="M319.8,213.0 L346.3,213.0 L343.84,186.00 L324.20,186.00 Z" fill="#e26a79"/><text x="313.80" y="229.80" font-size="6.8" fill="#404040" font-family="'Liberation Sans', Arial, sans-serif">Item5</text><path d="M392.95,141.60 L398.3,108.8 L404.09,141.60 L401.29,141.60 Z" fill="#a9a9a9"/><path d="M392.95,141.60 L398.3,108.8 L401.29,141.60 Z" fill="#d4d4d4"/><path d="M381.3,213.0 L407.8,213.0 L415.8,208.0 L404.09,141.60 L401.29,141.60 L392.95,141.60 Z" fill="#bd6a75"/><path d="M381.3,213.0 L407.8,213.0 L401.29,141.60 L392.95,141.60 Z" fill="#e7838f"/><text x="375.30" y="229.80" font-size="6.8" fill="#404040" font-family="'Liberation Sans', Arial, sans-serif">Item6</text><text x="48.00" y="261.00" font-size="13.5" font-weight="bold" fill="#a50f22" textLength="83.7" lengthAdjust="spacingAndGlyphs" font-family="'Liberation Sans', Arial, sans-serif">Add title here</text><text x="48.00" y="280.20" font-size="9.5" fill="#161616" textLength="198.0" lengthAdjust="spacingAndGlyphs" font-family="'Liberation Sans', Arial, sans-serif">Title can be changed by clicking and re-entering,</text><text x="48.00" y="296.60" font-size="9.5" fill="#161616" textLength="98.5" lengthAdjust="spacingAndGlyphs" font-family="'Liberation Sans', Arial, sans-serif">please enter the caption</text><text x="280.80" y="261.00" font-size="13.5" font-weight="bold" fill="#a50f22" textLength="83.7" lengthAdjust="spacingAndGlyphs" font-family="'Liberation Sans', Arial, sans-serif">Add title here</text><text x="280.80" y="280.20" font-size="9.5" fill="#161616" textLength="148.0" lengthAdjust="spacingAndGlyphs" font-family="'Liberation Sans', Arial, sans-serif">Title can be changed by clicking and</text><text x="280.80" y="296.60" font-size="9.5" fill="#161616" textLength="148.0" lengthAdjust="spacingAndGlyphs" font-family="'Liberation Sans', Arial, sans-serif">re-entering, please enter the caption</text></svg>
<svg class="s" style="left:0px;top:740px" width="475" height="360" viewBox="0 0 475 360"><rect x="0.00" y="0.00" width="475.00" height="360.00" fill="#f4f4f4"/><defs><filter id="sb36" x="-5%" y="-5%" width="110%" height="110%"><feGaussianBlur stdDeviation="0.9"/></filter></defs><path d="M-10,100.6 L0,98 Q75,72 143,61.1 C200,52 270,49 320,49.5 C380,50.5 440,55 475,63.2 L485,66 L485,320.7 L475,322 C430,328 390,334 359,336.6 C250,342 120,341 0,337 L-10,336.5 Z" fill="#ffffff" filter="url(#sb36)"/><path d="M0,83.7 Q75,68 143,61.1 Q75,72 0,98 Z" fill="#d84a61"/><path d="M359,336.6 C400,331.5 440,326.5 475,322 L475,329.6 C430,332.3 390,334.6 359,336.6 Z" fill="#d84a61"/><text y="38.75" font-size="17" fill="#111111" font-family="'Liberation Sans', Arial, sans-serif"><tspan x="23.1" textLength="46.8" lengthAdjust="spacingAndGlyphs">Please</tspan> <tspan x="75.7" textLength="38.75" lengthAdjust="spacingAndGlyphs">enter</tspan> <tspan x="119.7" textLength="8.2" lengthAdjust="spacingAndGlyphs">a</tspan> <tspan x="132.9" textLength="28.6" lengthAdjust="spacingAndGlyphs">title</tspan> <tspan x="166.4" textLength="33.6" lengthAdjust="spacingAndGlyphs">here</tspan></text><g transform="translate(436,13)"><rect x="0.00" y="0.00" width="23.80" height="30.00" fill="#c30d23"/><path d="M11.6,3.2 C9.0,4.4 5.6,6.6 5.3999999999999995,9 C5.3,11.2 8.2,12.6 11.6,13.4 C15.0,12.6 17.9,11.2 17.8,9 C17.6,6.6 14.2,4.4 11.6,3.2 Z" fill="none" fill="none" stroke="#ffffff" stroke-width="0.95"/><path d="M11.0,19.6 C8.1,21 4.0,20.2 3.1999999999999993,16.8 C3.0,14.8 4.0,13.3 5.0,13.3 C8.0,13.6 10.5,16 11.0,19.6 Z" fill="none" fill="none" stroke="#ffffff" stroke-width="0.95"/><path d="M12.2,19.6 C15.1,21 19.2,20.2 20.0,16.8 C20.2,14.8 19.2,13.3 18.2,13.3 C15.2,13.6 12.7,16 12.2,19.6 Z" fill="none" fill="none" stroke="#ffffff" stroke-width="0.95"/><line x1="11.60" y1="7.20" x2="11.60" y2="22.40" stroke="#ffffff" stroke-width="0.9"/><line x1="4.80" y1="14.60" x2="10.40" y2="19.20" stroke="#ffffff" stroke-width="0.6"/><line x1="18.40" y1="14.60" x2="12.80" y2="19.20" stroke="#ffffff" stroke-width="0.6"/><rect x="3.00" y="23.20" width="17.70" height="5.40" fill="#ffffff"/><rect x="4.2" y="23.8" width="1.3" height="1.6" fill="#c9475a"/><rect x="6.0" y="23.8" width="1.3" height="1.6" fill="#c9475a"/><rect x="7.8" y="23.8" width="1.3" height="1.6" fill="#c9475a"/><rect x="9.6" y="23.8" width="1.3" height="1.6" fill="#c9475a"/><rect x="12.4" y="23.8" width="1.3" height="1.6" fill="#c9475a"/><rect x="14.2" y="23.8" width="1.3" height="1.6" fill="#c9475a"/><rect x="16.0" y="23.8" width="1.3" height="1.6" fill="#c9475a"/><rect x="17.8" y="23.8" width="1.3" height="1.6" fill="#c9475a"/><rect x="4.0" y="26.1" width="1.5" height="1.8" fill="#c9475a"/><rect x="5.9" y="26.1" width="1.5" height="1.8" fill="#c9475a"/><rect x="7.8" y="26.1" width="1.5" height="1.8" fill="#c9475a"/><rect x="9.7" y="26.1" width="1.5" height="1.8" fill="#c9475a"/><rect x="11.6" y="26.1" width="1.5" height="1.8" fill="#c9475a"/><rect x="13.5" y="26.1" width="1.5" height="1.8" fill="#c9475a"/><rect x="15.4" y="26.1" width="1.5" height="1.8" fill="#c9475a"/><rect x="17.3" y="26.1" width="1.5" height="1.8" fill="#c9475a"/></g><rect x="452.60" y="343.40" width="9.90" height="12.00" fill="#ffffff" stroke="#a8a8a8" stroke-width="0.6"/><text x="457.55" y="350.90" font-size="5.6" font-weight="bold" text-anchor="middle" fill="#555555" font-family="'Liberation Sans', Arial, sans-serif">36</text><text x="43.30" y="278.10" font-size="7.5" text-anchor="end" fill="#6a6a6a" font-family="'Liberation Sans', Arial, sans-serif">0%</text><line x1="50.75" y1="262.95" x2="256.50" y2="262.95" stroke="#dcdcdc" stroke-width="0.6"/><text x="43.30" y="265.55" font-size="7.5" text-anchor="end" fill="#6a6a6a" font-family="'Liberation Sans', Arial, sans-serif">10%</text><line x1="50.75" y1="250.40" x2="256.50" y2="250.40" stroke="#dcdcdc" stroke-width="0.6"/><text x="43.30" y="253.00" font-size="7.5" text-anchor="end" fill="#6a6a6a" font-family="'Liberation Sans', Arial, sans-serif">20%</text><line x1="50.75" y1="237.85" x2="256.50" y2="237.85" stroke="#dcdcdc" stroke-width="0.6"/><text x="43.30" y="240.45" font-size="7.5" text-anchor="end" fill="#6a6a6a" font-family="'Liberation Sans', Arial, sans-serif">30%</text><line x1="50.75" y1="225.30" x2="256.50" y2="225.30" stroke="#dcdcdc" stroke-width="0.6"/><text x="43.30" y="227.90" font-size="7.5" text-anchor="end" fill="#6a6a6a" font-family="'Liberation Sans', Arial, sans-serif">40%</text><line x1="50.75" y1="212.75" x2="256.50" y2="212.75" stroke="#dcdcdc" stroke-width="0.6"/><text x="43.30" y="215.35" font-size="7.5" text-anchor="end" fill="#6a6a6a" font-family="'Liberation Sans', Arial, sans-serif">50%</text><line x1="50.75" y1="200.20" x2="256.50" y2="200.20" stroke="#dcdcdc" stroke-width="0.6"/><text x="43.30" y="202.80" font-size="7.5" text-anchor="end" fill="#6a6a6a" font-family="'Liberation Sans', Arial, sans-serif">60%</text><line x1="50.75" y1="187.65" x2="256.50" y2="187.65" stroke="#dcdcdc" stroke-width="0.6"/><text x="43.30" y="190.25" font-size="7.5" text-anchor="end" fill="#6a6a6a" font-family="'Liberation Sans', Arial, sans-serif">70%</text><line x1="50.75" y1="175.10" x2="256.50" y2="175.10" stroke="#dcdcdc" stroke-width="0.6"/><text x="43.30" y="177.70" font-size="7.5" text-anchor="end" fill="#6a6a6a" font-family="'Liberation Sans', Arial, sans-serif">80%</text><line x1="50.75" y1="162.55" x2="256.50" y2="162.55" stroke="#dcdcdc" stroke-width="0.6"/><text x="43.30" y="165.15" font-size="7.5" text-anchor="end" fill="#6a6a6a" font-family="'Liberation Sans', Arial, sans-serif">90%</text><line x1="50.75" y1="150.00" x2="256.50" y2="150.00" stroke="#dcdcdc" stroke-width="0.6"/><text x="43.30" y="152.60" font-size="7.5" text-anchor="end" fill="#6a6a6a" font-family="'Liberation Sans', Arial, sans-serif">100%</text><line x1="50.75" y1="150.00" x2="50.75" y2="275.50" stroke="#d0d0d0" stroke-width="0.7"/><line x1="50.75" y1="275.50" x2="256.50" y2="275.50" stroke="#c8c8c8" stroke-width="0.7"/><line x1="50.75" y1="275.50" x2="50.75" y2="277.50" stroke="#d0d0d0" stroke-width="0.6"/><line x1="102.20" y1="275.50" x2="102.20" y2="277.50" stroke="#d0d0d0" stroke-width="0.6"/><line x1="153.90" y1="275.50" x2="153.90" y2="277.50" stroke="#d0d0d0" stroke-width="0.6"/><line x1="205.60" y1="275.50" x2="205.60" y2="277.50" stroke="#d0d0d0" stroke-width="0.6"/><line x1="256.50" y1="275.50" x2="256.50" y2="277.50" stroke="#d0d0d0" stroke-width="0.6"/><rect x="63.25" y="250.40" width="25.50" height="25.10" fill="#c00b20"/><text x="76.00" y="271.40" font-size="9.8" font-weight="bold" text-anchor="middle" fill="#ffffff" textLength="18.6" lengthAdjust="spacingAndGlyphs" font-family="'Liberation Sans', Arial, sans-serif">20%</text><rect x="63.25" y="200.20" width="25.50" height="50.20" fill="#cd384b"/><text x="76.00" y="246.30" font-size="9.8" font-weight="bold" text-anchor="middle" fill="#ffffff" textLength="18.6" lengthAdjust="spacingAndGlyphs" font-family="'Liberation Sans', Arial, sans-serif">40%</text><rect x="63.25" y="150.00" width="25.50" height="50.20" fill="#a5a5a5"/><text x="76.00" y="196.10" font-size="9.8" font-weight="bold" text-anchor="middle" fill="#ffffff" textLength="18.6" lengthAdjust="spacingAndGlyphs" font-family="'Liberation Sans', Arial, sans-serif">40%</text><text x="76.00" y="290.20" font-size="8.9" text-anchor="middle" fill="#6a6a6a" textLength="23.8" lengthAdjust="spacingAndGlyphs" font-family="'Liberation Sans', Arial, sans-serif">Data1</text><rect x="115.00" y="237.85" width="25.50" height="37.65" fill="#c00b20"/><text x="127.75" y="271.40" font-size="9.8" font-weight="bold" text-anchor="middle" fill="#ffffff" textLength="18.6" lengthAdjust="spacingAndGlyphs" font-family="'Liberation Sans', Arial, sans-serif">30%</text><rect x="115.00" y="175.10" width="25.50" height="62.75" fill="#cd384b"/><text x="127.75" y="233.75" font-size="9.8" font-weight="bold" text-anchor="middle" fill="#ffffff" textLength="18.6" lengthAdjust="spacingAndGlyphs" font-family="'Liberation Sans', Arial, sans-serif">50%</text><rect x="115.00" y="150.00" width="25.50" height="25.10" fill="#a5a5a5"/><text x="127.75" y="171.00" font-size="9.8" font-weight="bold" text-anchor="middle" fill="#ffffff" textLength="18.6" lengthAdjust="spacingAndGlyphs" font-family="'Liberation Sans', Arial, sans-serif">20%</text><text x="127.75" y="290.20" font-size="8.9" text-anchor="middle" fill="#6a6a6a" textLength="23.8" lengthAdjust="spacingAndGlyphs" font-family="'Liberation Sans', Arial, sans-serif">Data2</text><rect x="166.75" y="212.75" width="25.50" height="62.75" fill="#c00b20"/><text x="179.50" y="271.40" font-size="9.8" font-weight="bold" text-anchor="middle" fill="#ffffff" textLength="18.6" lengthAdjust="spacingAndGlyphs" font-family="'Liberation Sans', Arial, sans-serif">50%</text><rect x="166.75" y="175.10" width="25.50" height="37.65" fill="#cd384b"/><text x="179.50" y="208.65" font-size="9.8" font-weight="bold" text-anchor="middle" fill="#ffffff" textLength="18.6" lengthAdjust="spacingAndGlyphs" font-family="'Liberation Sans', Arial, sans-serif">30%</text><rect x="166.75" y="150.00" width="25.50" height="25.10" fill="#a5a5a5"/><text x="179.50" y="171.00" font-size="9.8" font-weight="bold" text-anchor="middle" fill="#ffffff" textLength="18.6" lengthAdjust="spacingAndGlyphs" font-family="'Liberation Sans', Arial, sans-serif">20%</text><text x="179.50" y="290.20" font-size="8.9" text-anchor="middle" fill="#6a6a6a" textLength="23.8" lengthAdjust="spacingAndGlyphs" font-family="'Liberation Sans', Arial, sans-serif">Data3</text><rect x="218.00" y="231.57" width="25.50" height="43.93" fill="#c00b20"/><text x="230.75" y="271.40" font-size="9.8" font-weight="bold" text-anchor="middle" fill="#ffffff" textLength="18.6" lengthAdjust="spacingAndGlyphs" font-family="'Liberation Sans', Arial, sans-serif">35%</text><rect x="218.00" y="187.65" width="25.50" height="43.92" fill="#cd384b"/><text x="230.75" y="227.47" font-size="9.8" font-weight="bold" text-anchor="middle" fill="#ffffff" textLength="18.6" lengthAdjust="spacingAndGlyphs" font-family="'Liberation Sans', Arial, sans-serif">35%</text><rect x="218.00" y="150.00" width="25.50" height="37.65" fill="#a5a5a5"/><text x="230.75" y="183.55" font-size="9.8" font-weight="bold" text-anchor="middle" fill="#ffffff" textLength="18.6" lengthAdjust="spacingAndGlyphs" font-family="'Liberation Sans', Arial, sans-serif">30%</text><text x="230.75" y="290.20" font-size="8.9" text-anchor="middle" fill="#6a6a6a" textLength="23.8" lengthAdjust="spacingAndGlyphs" font-family="'Liberation Sans', Arial, sans-serif">Data4</text><rect x="82.50" y="126.80" width="4.20" height="4.20" fill="#a5a5a5"/><text x="89.00" y="132.20" font-size="9" fill="#404040" textLength="22.0" lengthAdjust="spacingAndGlyphs" font-family="'Liberation Sans', Arial, sans-serif">Item3</text><rect x="143.75" y="126.80" width="4.20" height="4.20" fill="#cd384b"/><text x="150.25" y="132.20" font-size="9" fill="#404040" textLength="22.0" lengthAdjust="spacingAndGlyphs" font-family="'Liberation Sans', Arial, sans-serif">Item2</text><rect x="205.50" y="126.80" width="4.20" height="4.20" fill="#c00b20"/><text x="212.00" y="132.20" font-size="9" fill="#404040" textLength="22.0" lengthAdjust="spacingAndGlyphs" font-family="'Liberation Sans', Arial, sans-serif">Item1</text><text x="323.90" y="123.80" font-size="11.7" font-weight="bold" fill="#222222" textLength="75.4" lengthAdjust="spacingAndGlyphs" font-family="'Liberation Sans', Arial, sans-serif">Add title here</text><text x="323.90" y="140.20" font-size="8.4" fill="#161616" textLength="126.7" lengthAdjust="spacingAndGlyphs" font-family="'Liberation Sans', Arial, sans-serif">Title can be changed by clicking and</text><text x="323.90" y="154.50" font-size="8.4" fill="#161616" textLength="126.7" lengthAdjust="spacingAndGlyphs" font-family="'Liberation Sans', Arial, sans-serif">re-entering, please enter the caption</text><text x="323.90" y="189.70" font-size="11.7" font-weight="bold" fill="#a50f22" textLength="75.4" lengthAdjust="spacingAndGlyphs" font-family="'Liberation Sans', Arial, sans-serif">Add title here</text><text x="323.90" y="206.10" font-size="8.4" fill="#161616" textLength="126.7" lengthAdjust="spacingAndGlyphs" font-family="'Liberation Sans', Arial, sans-serif">Title can be changed by clicking and</text><text x="323.90" y="220.40" font-size="8.4" fill="#161616" textLength="126.7" lengthAdjust="spacingAndGlyphs" font-family="'Liberation Sans', Arial, sans-serif">re-entering, please enter the caption</text><text x="323.90" y="257.40" font-size="11.7" font-weight="bold" fill="#a50f22" textLength="75.4" lengthAdjust="spacingAndGlyphs" font-family="'Liberation Sans', Arial, sans-serif">Add title here</text><text x="323.90" y="273.80" font-size="8.4" fill="#161616" textLength="126.7" lengthAdjust="spacingAndGlyphs" font-family="'Liberation Sans', Arial, sans-serif">Title can be changed by clicking and</text><text x="323.90" y="288.10" font-size="8.4" fill="#161616" textLength="126.7" lengthAdjust="spacingAndGlyphs" font-family="'Liberation Sans', Arial, sans-serif">re-entering, please enter the caption</text><line x1="289.30" y1="121.90" x2="289.30" y2="135.60" stroke="#7a7a7a" stroke-width="1.0"/><line x1="288.80" y1="135.20" x2="306.00" y2="135.20" stroke="#7a7a7a" stroke-width="1.0"/><rect x="292.10" y="128.80" width="1.80" height="4.00" fill="#7a7a7a"/><rect x="295.40" y="124.50" width="1.80" height="8.30" fill="#7a7a7a"/><rect x="299.00" y="126.90" width="1.80" height="5.90" fill="#7a7a7a"/><rect x="302.20" y="123.00" width="1.80" height="9.80" fill="#7a7a7a"/><text x="297.30" y="148.60" font-size="7.6" text-anchor="middle" fill="#6e6e6e" textLength="21.1" lengthAdjust="spacingAndGlyphs" font-family="'DejaVu Sans', sans-serif">Item3</text><path d="M297.3,182.1 L302.2,187.5 L299,187.5 L299,192.4 L295.5,192.4 L295.5,187.5 L292.3,187.5 Z" fill="#c41a30"/><path d="M289,193.2 L294.6,193.2 C295.2,194.4 299.4,194.4 300,193.2 L305.4,193.2 L305.4,197.8 L289,197.8 Z" fill="#c41a30"/><rect x="301.60" y="195.60" width="0.90" height="0.90" fill="#ffffff"/><rect x="303.20" y="195.60" width="0.90" height="0.90" fill="#ffffff"/><text x="297.40" y="209.80" font-size="7.6" font-weight="bold" text-anchor="middle" fill="#9e1426" textLength="21.2" lengthAdjust="spacingAndGlyphs" font-family="'DejaVu Sans', sans-serif">Item2</text><path d="M296,243 L299.2,243 L299.2,248.3 L303,248.3 L297.6,253.7 L292.1,248.3 L296,248.3 Z" fill="#c41a30"/><path d="M289.2,253.9 L294.8,253.9 C295.6,255.6 299.6,255.6 300.4,253.9 L305.6,253.9 L305.6,258.6 L289.2,258.6 Z" fill="#c41a30"/><rect x="301.80" y="256.30" width="0.90" height="0.90" fill="#ffffff"/><rect x="303.40" y="256.30" width="0.90" height="0.90" fill="#ffffff"/><text x="297.40" y="270.40" font-size="7.6" font-weight="bold" text-anchor="middle" fill="#9e1426" textLength="21.2" lengthAdjust="spacingAndGlyphs" font-family="'DejaVu Sans', sans-serif">Item1</text></svg>
<svg class="s" style="left:485px;top:740px" width="475" height="360" viewBox="0 0 475 360"><rect x="0.00" y="0.00" width="475.00" height="360.00" fill="#f4f4f4"/><defs><filter id="sb37" x="-5%" y="-5%" width="110%" height="110%"><feGaussianBlur stdDeviation="0.9"/></filter></defs><path d="M-10,100.6 L0,98 Q75,72 143,61.1 C200,52 270,49 320,49.5 C380,50.5 440,55 475,63.2 L485,66 L485,320.7 L475,322 C430,328 390,334 359,336.6 C250,342 120,341 0,337 L-10,336.5 Z" fill="#ffffff" filter="url(#sb37)"/><path d="M0,83.7 Q75,68 143,61.1 Q75,72 0,98 Z" fill="#d84a61"/><path d="M359,336.6 C400,331.5 440,326.5 475,322 L475,329.6 C430,332.3 390,334.6 359,336.6 Z" fill="#d84a61"/><text y="38.75" font-size="17" fill="#111111" font-family="'Liberation Sans', Arial, sans-serif"><tspan x="23.1" textLength="46.8" lengthAdjust="spacingAndGlyphs">Please</tspan> <tspan x="75.7" textLength="38.75" lengthAdjust="spacingAndGlyphs">enter</tspan> <tspan x="119.7" textLength="8.2" lengthAdjust="spacingAndGlyphs">a</tspan> <tspan x="132.9" textLength="28.6" lengthAdjust="spacingAndGlyphs">title</tspan> <tspan x="166.4" textLength="33.6" lengthAdjust="spacingAndGlyphs">here</tspan></text><g transform="translate(436,13)"><rect x="0.00" y="0.00" width="23.80" height="30.00" fill="#c30d23"/><path d="M11.6,3.2 C9.0,4.4 5.6,6.6 5.3999999999999995,9 C5.3,11.2 8.2,12.6 11.6,13.4 C15.0,12.6 17.9,11.2 17.8,9 C17.6,6.6 14.2,4.4 11.6,3.2 Z" fill="none" fill="none" stroke="#ffffff" stroke-width="0.95"/><path d="M11.0,19.6 C8.1,21 4.0,20.2 3.1999999999999993,16.8 C3.0,14.8 4.0,13.3 5.0,13.3 C8.0,13.6 10.5,16 11.0,19.6 Z" fill="none" fill="none" stroke="#ffffff" stroke-width="0.95"/><path d="M12.2,19.6 C15.1,21 19.2,20.2 20.0,16.8 C20.2,14.8 19.2,13.3 18.2,13.3 C15.2,13.6 12.7,16 12.2,19.6 Z" fill="none" fill="none" stroke="#ffffff" stroke-width="0.95"/><line x1="11.60" y1="7.20" x2="11.60" y2="22.40" stroke="#ffffff" stroke-width="0.9"/><line x1="4.80" y1="14.60" x2="10.40" y2="19.20" stroke="#ffffff" stroke-width="0.6"/><line x1="18.40" y1="14.60" x2="12.80" y2="19.20" stroke="#ffffff" stroke-width="0.6"/><rect x="3.00" y="23.20" width="17.70" height="5.40" fill="#ffffff"/><rect x="4.2" y="23.8" width="1.3" height="1.6" fill="#c9475a"/><rect x="6.0" y="23.8" width="1.3" height="1.6" fill="#c9475a"/><rect x="7.8" y="23.8" width="1.3" height="1.6" fill="#c9475a"/><rect x="9.6" y="23.8" width="1.3" height="1.6" fill="#c9475a"/><rect x="12.4" y="23.8" width="1.3" height="1.6" fill="#c9475a"/><rect x="14.2" y="23.8" width="1.3" height="1.6" fill="#c9475a"/><rect x="16.0" y="23.8" width="1.3" height="1.6" fill="#c9475a"/><rect x="17.8" y="23.8" width="1.3" height="1.6" fill="#c9475a"/><rect x="4.0" y="26.1" width="1.5" height="1.8" fill="#c9475a"/><rect x="5.9" y="26.1" width="1.5" height="1.8" fill="#c9475a"/><rect x="7.8" y="26.1" width="1.5" height="1.8" fill="#c9475a"/><rect x="9.7" y="26.1" width="1.5" height="1.8" fill="#c9475a"/><rect x="11.6" y="26.1" width="1.5" height="1.8" fill="#c9475a"/><rect x="13.5" y="26.1" width="1.5" height="1.8" fill="#c9475a"/><rect x="15.4" y="26.1" width="1.5" height="1.8" fill="#c9475a"/><rect x="17.3" y="26.1" width="1.5" height="1.8" fill="#c9475a"/></g><rect x="452.60" y="343.40" width="9.90" height="12.00" fill="#ffffff" stroke="#a8a8a8" stroke-width="0.6"/><text x="457.55" y="350.90" font-size="5.6" font-weight="bold" text-anchor="middle" fill="#555555" font-family="'Liberation Sans', Arial, sans-serif">37</text><text x="50.10" y="282.80" font-size="7.2" text-anchor="middle" fill="#6a6a6a" font-family="'Liberation Sans', Arial, sans-serif">0</text><text x="79.66" y="282.80" font-size="7.2" text-anchor="middle" fill="#6a6a6a" font-family="'Liberation Sans', Arial, sans-serif">1</text><text x="109.22" y="282.80" font-size="7.2" text-anchor="middle" fill="#6a6a6a" font-family="'Liberation Sans', Arial, sans-serif">2</text><text x="138.78" y="282.80" font-size="7.2" text-anchor="middle" fill="#6a6a6a" font-family="'Liberation Sans', Arial, sans-serif">3</text><text x="168.34" y="282.80" font-size="7.2" text-anchor="middle" fill="#6a6a6a" font-family="'Liberation Sans', Arial, sans-serif">4</text><text x="197.90" y="282.80" font-size="7.2" text-anchor="middle" fill="#6a6a6a" font-family="'Liberation Sans', Arial, sans-serif">5</text><text x="227.46" y="282.80" font-size="7.2" text-anchor="middle" fill="#6a6a6a" font-family="'Liberation Sans', Arial, sans-serif">6</text><text x="257.02" y="282.80" font-size="7.2" text-anchor="middle" fill="#6a6a6a" font-family="'Liberation Sans', Arial, sans-serif">7</text><line x1="50.10" y1="268.50" x2="257.02" y2="268.50" stroke="#e2e2e2" stroke-width="0.6"/><rect x="50.10" y="122.20" width="177.36" height="6.10" fill="#c00b20"/><text x="231.06" y="129.90" font-size="10.8" fill="#111111" font-family="'Liberation Sans', Arial, sans-serif">6</text><rect x="50.10" y="131.10" width="118.24" height="6.10" fill="#cf4a5f"/><text x="171.94" y="138.80" font-size="10.8" fill="#111111" font-family="'Liberation Sans', Arial, sans-serif">4</text><rect x="50.10" y="140.00" width="147.80" height="6.10" fill="#e29fa7"/><text x="201.50" y="147.70" font-size="10.8" fill="#111111" font-family="'Liberation Sans', Arial, sans-serif">5</text><rect x="50.10" y="152.50" width="118.24" height="6.10" fill="#c00b20"/><text x="171.94" y="160.20" font-size="10.8" fill="#111111" font-family="'Liberation Sans', Arial, sans-serif">4</text><rect x="50.10" y="161.40" width="177.36" height="6.10" fill="#cf4a5f"/><text x="231.06" y="169.10" font-size="10.8" fill="#111111" font-family="'Liberation Sans', Arial, sans-serif">6</text><rect x="50.10" y="170.30" width="118.24" height="6.10" fill="#e29fa7"/><text x="171.94" y="178.00" font-size="10.8" fill="#111111" font-family="'Liberation Sans', Arial, sans-serif">4</text><rect x="50.10" y="183.10" width="118.24" height="6.10" fill="#c00b20"/><text x="171.94" y="190.80" font-size="10.8" fill="#111111" font-family="'Liberation Sans', Arial, sans-serif">4</text><rect x="50.10" y="192.00" width="53.21" height="6.10" fill="#cf4a5f"/><text x="106.91" y="199.70" font-size="10.8" fill="#111111" font-family="'Liberation Sans', Arial, sans-serif">1.8</text><rect x="50.10" y="200.90" width="103.46" height="6.10" fill="#e29fa7"/><text x="157.16" y="208.60" font-size="10.8" fill="#111111" font-family="'Liberation Sans', Arial, sans-serif">3.5</text><rect x="50.10" y="213.20" width="59.12" height="6.10" fill="#c00b20"/><text x="112.82" y="220.90" font-size="10.8" fill="#111111" font-family="'Liberation Sans', Arial, sans-serif">2</text><rect x="50.10" y="222.10" width="130.06" height="6.10" fill="#cf4a5f"/><text x="183.76" y="229.80" font-size="10.8" fill="#111111" font-family="'Liberation Sans', Arial, sans-serif">4.4</text><rect x="50.10" y="231.00" width="162.58" height="6.10" fill="#e29fa7"/><text x="216.28" y="238.70" font-size="10.8" fill="#111111" font-family="'Liberation Sans', Arial, sans-serif">5.5</text><rect x="50.10" y="243.80" width="88.68" height="6.10" fill="#c00b20"/><text x="142.38" y="251.50" font-size="10.8" fill="#111111" font-family="'Liberation Sans', Arial, sans-serif">3</text><rect x="50.10" y="252.70" width="70.94" height="6.10" fill="#cf4a5f"/><text x="124.64" y="260.40" font-size="10.8" fill="#111111" font-family="'Liberation Sans', Arial, sans-serif">2.4</text><rect x="50.10" y="261.60" width="127.11" height="6.10" fill="#e29fa7"/><text x="180.81" y="269.30" font-size="10.8" fill="#111111" font-family="'Liberation Sans', Arial, sans-serif">4.3</text><text x="42.50" y="136.00" font-size="8" text-anchor="end" fill="#5f5f5f" textLength="21.0" lengthAdjust="spacingAndGlyphs" font-family="'Liberation Sans', Arial, sans-serif">Data4</text><text x="42.50" y="167.00" font-size="8" text-anchor="end" fill="#5f5f5f" textLength="21.0" lengthAdjust="spacingAndGlyphs" font-family="'Liberation Sans', Arial, sans-serif">Data3</text><text x="42.50" y="197.30" font-size="8" text-anchor="end" fill="#5f5f5f" textLength="21.0" lengthAdjust="spacingAndGlyphs" font-family="'Liberation Sans', Arial, sans-serif">Data2</text><text x="42.50" y="227.90" font-size="8" text-anchor="end" fill="#5f5f5f" textLength="21.0" lengthAdjust="spacingAndGlyphs" font-family="'Liberation Sans', Arial, sans-serif">Data1</text><rect x="85.90" y="298.20" width="3.70" height="4.10" fill="#c00b20"/><text x="92.50" y="302.50" font-size="8.4" fill="#555555" textLength="22.6" lengthAdjust="spacingAndGlyphs" font-family="'Liberation Sans', Arial, sans-serif">Item3</text><rect x="129.70" y="298.20" width="3.70" height="4.10" fill="#cf4a5f"/><text x="136.30" y="302.50" font-size="8.4" fill="#555555" textLength="22.6" lengthAdjust="spacingAndGlyphs" font-family="'Liberation Sans', Arial, sans-serif">Item2</text><rect x="173.00" y="298.20" width="3.70" height="4.10" fill="#e29fa7"/><text x="179.60" y="302.50" font-size="8.4" fill="#555555" textLength="21.1" lengthAdjust="spacingAndGlyphs" font-family="'Liberation Sans', Arial, sans-serif">Item1</text><text x="289.80" y="136.70" font-size="18" font-weight="bold" fill="#a50f22" textLength="35.7" lengthAdjust="spacingAndGlyphs" font-family="'Liberation Sans', Arial, sans-serif">58%</text><text x="289.80" y="153.50" font-size="12.2" font-weight="bold" fill="#a50f22" textLength="102.6" lengthAdjust="spacingAndGlyphs" font-family="'Liberation Sans', Arial, sans-serif">Enter a title here</text><text x="289.80" y="171.30" font-size="9.5" fill="#161616" textLength="161.0" lengthAdjust="spacingAndGlyphs" font-family="'Liberation Sans', Arial, sans-serif">Headers, numbers, and more can all be</text><text x="289.80" y="188.20" font-size="9.5" fill="#161616" textLength="146.5" lengthAdjust="spacingAndGlyphs" font-family="'Liberation Sans', Arial, sans-serif">changed by clicking and re-entering.</text><text x="289.80" y="231.10" font-size="18" font-weight="bold" fill="#a50f22" textLength="35.7" lengthAdjust="spacingAndGlyphs" font-family="'Liberation Sans', Arial, sans-serif">36%</text><text x="289.80" y="247.90" font-size="12.2" font-weight="bold" fill="#a50f22" textLength="102.6" lengthAdjust="spacingAndGlyphs" font-family="'Liberation Sans', Arial, sans-serif">Enter a title here</text><text x="289.80" y="265.70" font-size="9.5" fill="#161616" textLength="161.0" lengthAdjust="spacingAndGlyphs" font-family="'Liberation Sans', Arial, sans-serif">Headers, numbers, and more can all be</text><text x="289.80" y="282.60" font-size="9.5" fill="#161616" textLength="146.5" lengthAdjust="spacingAndGlyphs" font-family="'Liberation Sans', Arial, sans-serif">changed by clicking and re-entering.</text></svg>
<svg class="s" style="left:0px;top:1110px" width="475" height="360" viewBox="0 0 475 360"><rect x="0.00" y="0.00" width="475.00" height="360.00" fill="#f4f4f4"/><defs><filter id="sb38" x="-5%" y="-5%" width="110%" height="110%"><feGaussianBlur stdDeviation="0.9"/></filter></defs><path d="M-10,100.6 L0,98 Q75,72 143,61.1 C200,52 270,49 320,49.5 C380,50.5 440,55 475,63.2 L485,66 L485,320.7 L475,322 C430,328 390,334 359,336.6 C250,342 120,341 0,337 L-10,336.5 Z" fill="#ffffff" filter="url(#sb38)"/><path d="M0,83.7 Q75,68 143,61.1 Q75,72 0,98 Z" fill="#d84a61"/><path d="M359,336.6 C400,331.5 440,326.5 475,322 L475,329.6 C430,332.3 390,334.6 359,336.6 Z" fill="#d84a61"/><text y="38.75" font-size="17" fill="#111111" font-family="'Liberation Sans', Arial, sans-serif"><tspan x="23.1" textLength="46.8" lengthAdjust="spacingAndGlyphs">Please</tspan> <tspan x="75.7" textLength="38.75" lengthAdjust="spacingAndGlyphs">enter</tspan> <tspan x="119.7" textLength="8.2" lengthAdjust="spacingAndGlyphs">a</tspan> <tspan x="132.9" textLength="28.6" lengthAdjust="spacingAndGlyphs">title</tspan> <tspan x="166.4" textLength="33.6" lengthAdjust="spacingAndGlyphs">here</tspan></text><g transform="translate(436,13)"><rect x="0.00" y="0.00" width="23.80" height="30.00" fill="#c30d23"/><path d="M11.6,3.2 C9.0,4.4 5.6,6.6 5.3999999999999995,9 C5.3,11.2 8.2,12.6 11.6,13.4 C15.0,12.6 17.9,11.2 17.8,9 C17.6,6.6 14.2,4.4 11.6,3.2 Z" fill="none" fill="none" stroke="#ffffff" stroke-width="0.95"/><path d="M11.0,19.6 C8.1,21 4.0,20.2 3.1999999999999993,16.8 C3.0,14.8 4.0,13.3 5.0,13.3 C8.0,13.6 10.5,16 11.0,19.6 Z" fill="none" fill="none" stroke="#ffffff" stroke-width="0.95"/><path d="M12.2,19.6 C15.1,21 19.2,20.2 20.0,16.8 C20.2,14.8 19.2,13.3 18.2,13.3 C15.2,13.6 12.7,16 12.2,19.6 Z" fill="none" fill="none" stroke="#ffffff" stroke-width="0.95"/><line x1="11.60" y1="7.20" x2="11.60" y2="22.40" stroke="#ffffff" stroke-width="0.9"/><line x1="4.80" y1="14.60" x2="10.40" y2="19.20" stroke="#ffffff" stroke-width="0.6"/><line x1="18.40" y1="14.60" x2="12.80" y2="19.20" stroke="#ffffff" stroke-width="0.6"/><rect x="3.00" y="23.20" width="17.70" height="5.40" fill="#ffffff"/><rect x="4.2" y="23.8" width="1.3" height="1.6" fill="#c9475a"/><rect x="6.0" y="23.8" width="1.3" height="1.6" fill="#c9475a"/><rect x="7.8" y="23.8" width="1.3" height="1.6" fill="#c9475a"/><rect x="9.6" y="23.8" width="1.3" height="1.6" fill="#c9475a"/><rect x="12.4" y="23.8" width="1.3" height="1.6" fill="#c9475a"/><rect x="14.2" y="23.8" width="1.3" height="1.6" fill="#c9475a"/><rect x="16.0" y="23.8" width="1.3" height="1.6" fill="#c9475a"/><rect x="17.8" y="23.8" width="1.3" height="1.6" fill="#c9475a"/><rect x="4.0" y="26.1" width="1.5" height="1.8" fill="#c9475a"/><rect x="5.9" y="26.1" width="1.5" height="1.8" fill="#c9475a"/><rect x="7.8" y="26.1" width="1.5" height="1.8" fill="#c9475a"/><rect x="9.7" y="26.1" width="1.5" height="1.8" fill="#c9475a"/><rect x="11.6" y="26.1" width="1.5" height="1.8" fill="#c9475a"/><rect x="13.5" y="26.1" width="1.5" height="1.8" fill="#c9475a"/><rect x="15.4" y="26.1" width="1.5" height="1.8" fill="#c9475a"/><rect x="17.3" y="26.1" width="1.5" height="1.8" fill="#c9475a"/></g><rect x="452.60" y="343.40" width="9.90" height="12.00" fill="#ffffff" stroke="#a8a8a8" stroke-width="0.6"/><text x="457.55" y="350.90" font-size="5.6" font-weight="bold" text-anchor="middle" fill="#555555" font-family="'Liberation Sans', Arial, sans-serif">38</text><text x="27.70" y="257.70" font-size="5.6" text-anchor="middle" fill="#8a8a8a" font-family="'Liberation Sans', Arial, sans-serif">0</text><line x1="35.20" y1="239.31" x2="272.30" y2="239.31" stroke="#ededed" stroke-width="0.6"/><text x="27.70" y="241.31" font-size="5.6" text-anchor="middle" fill="#8a8a8a" font-family="'Liberation Sans', Arial, sans-serif">1</text><line x1="35.20" y1="222.92" x2="272.30" y2="222.92" stroke="#ededed" stroke-width="0.6"/><text x="27.70" y="224.92" font-size="5.6" text-anchor="middle" fill="#8a8a8a" font-family="'Liberation Sans', Arial, sans-serif">2</text><line x1="35.20" y1="206.54" x2="272.30" y2="206.54" stroke="#ededed" stroke-width="0.6"/><text x="27.70" y="208.54" font-size="5.6" text-anchor="middle" fill="#8a8a8a" font-family="'Liberation Sans', Arial, sans-serif">3</text><line x1="35.20" y1="190.15" x2="272.30" y2="190.15" stroke="#ededed" stroke-width="0.6"/><text x="27.70" y="192.15" font-size="5.6" text-anchor="middle" fill="#8a8a8a" font-family="'Liberation Sans', Arial, sans-serif">4</text><line x1="35.20" y1="173.76" x2="272.30" y2="173.76" stroke="#ededed" stroke-width="0.6"/><text x="27.70" y="175.76" font-size="5.6" text-anchor="middle" fill="#8a8a8a" font-family="'Liberation Sans', Arial, sans-serif">5</text><line x1="35.20" y1="157.38" x2="272.30" y2="157.38" stroke="#ededed" stroke-width="0.6"/><text x="27.70" y="159.38" font-size="5.6" text-anchor="middle" fill="#8a8a8a" font-family="'Liberation Sans', Arial, sans-serif">6</text><line x1="35.20" y1="140.99" x2="272.30" y2="140.99" stroke="#ededed" stroke-width="0.6"/><text x="27.70" y="142.99" font-size="5.6" text-anchor="middle" fill="#8a8a8a" font-family="'Liberation Sans', Arial, sans-serif">7</text><line x1="35.20" y1="124.60" x2="272.30" y2="124.60" stroke="#ededed" stroke-width="0.6"/><text x="27.70" y="126.60" font-size="5.6" text-anchor="middle" fill="#8a8a8a" font-family="'Liberation Sans', Arial, sans-serif">8</text><line x1="35.20" y1="124.60" x2="35.20" y2="255.70" stroke="#d9d9d9" stroke-width="0.6"/><line x1="35.20" y1="255.70" x2="272.30" y2="255.70" stroke="#d9d9d9" stroke-width="0.6"/><text x="47.30" y="265.50" font-size="5.6" text-anchor="middle" fill="#8a8a8a" font-family="'Liberation Sans', Arial, sans-serif">1</text><line x1="62.10" y1="255.70" x2="62.10" y2="257.70" stroke="#d9d9d9" stroke-width="0.5"/><text x="76.94" y="265.50" font-size="5.6" text-anchor="middle" fill="#8a8a8a" font-family="'Liberation Sans', Arial, sans-serif">2</text><line x1="91.74" y1="255.70" x2="91.74" y2="257.70" stroke="#d9d9d9" stroke-width="0.5"/><text x="106.58" y="265.50" font-size="5.6" text-anchor="middle" fill="#8a8a8a" font-family="'Liberation Sans', Arial, sans-serif">3</text><line x1="121.38" y1="255.70" x2="121.38" y2="257.70" stroke="#d9d9d9" stroke-width="0.5"/><text x="136.22" y="265.50" font-size="5.6" text-anchor="middle" fill="#8a8a8a" font-family="'Liberation Sans', Arial, sans-serif">4</text><line x1="151.02" y1="255.70" x2="151.02" y2="257.70" stroke="#d9d9d9" stroke-width="0.5"/><text x="165.86" y="265.50" font-size="5.6" text-anchor="middle" fill="#8a8a8a" font-family="'Liberation Sans', Arial, sans-serif">5</text><line x1="180.66" y1="255.70" x2="180.66" y2="257.70" stroke="#d9d9d9" stroke-width="0.5"/><text x="195.50" y="265.50" font-size="5.6" text-anchor="middle" fill="#8a8a8a" font-family="'Liberation Sans', Arial, sans-serif">6</text><line x1="210.30" y1="255.70" x2="210.30" y2="257.70" stroke="#d9d9d9" stroke-width="0.5"/><text x="225.14" y="265.50" font-size="5.6" text-anchor="middle" fill="#8a8a8a" font-family="'Liberation Sans', Arial, sans-serif">7</text><line x1="239.94" y1="255.70" x2="239.94" y2="257.70" stroke="#d9d9d9" stroke-width="0.5"/><text x="254.78" y="265.50" font-size="5.6" text-anchor="middle" fill="#8a8a8a" font-family="'Liberation Sans', Arial, sans-serif">8</text><line x1="269.58" y1="255.70" x2="269.58" y2="257.70" stroke="#d9d9d9" stroke-width="0.5"/><polyline points="50.70,255.70 80.34,239.31 109.98,222.92 139.62,239.31 169.26,190.15 198.90,222.92 228.54,206.54 258.18,173.76" fill="none" stroke="#a6a6a6" stroke-width="1.3" stroke-linejoin="round"/><circle cx="50.70" cy="255.70" r="2.70" fill="#a6a6a6"/><circle cx="80.34" cy="239.31" r="2.70" fill="#a6a6a6"/><circle cx="109.98" cy="222.92" r="2.70" fill="#a6a6a6"/><circle cx="139.62" cy="239.31" r="2.70" fill="#a6a6a6"/><circle cx="169.26" cy="190.15" r="2.70" fill="#a6a6a6"/><circle cx="198.90" cy="222.92" r="2.70" fill="#a6a6a6"/><circle cx="228.54" cy="206.54" r="2.70" fill="#a6a6a6"/><circle cx="258.18" cy="173.76" r="2.70" fill="#a6a6a6"/><polyline points="50.70,236.03 80.34,222.92 109.98,214.73 139.62,206.54 169.26,214.73 198.90,190.15 228.54,222.92 258.18,157.38" fill="none" stroke="#5f5f5f" stroke-width="1.5" stroke-linejoin="round"/><circle cx="50.70" cy="236.03" r="2.70" fill="#5f5f5f"/><circle cx="80.34" cy="222.92" r="2.70" fill="#5f5f5f"/><circle cx="109.98" cy="214.73" r="2.70" fill="#5f5f5f"/><circle cx="139.62" cy="206.54" r="2.70" fill="#5f5f5f"/><circle cx="169.26" cy="214.73" r="2.70" fill="#5f5f5f"/><circle cx="198.90" cy="190.15" r="2.70" fill="#5f5f5f"/><circle cx="228.54" cy="222.92" r="2.70" fill="#5f5f5f"/><circle cx="258.18" cy="157.38" r="2.70" fill="#5f5f5f"/><polyline points="50.70,218.01 80.34,206.54 109.98,198.34 139.62,198.34 169.26,181.96 198.90,181.96 228.54,173.76 258.18,149.18" fill="none" stroke="#e0566a" stroke-width="1.5" stroke-linejoin="round"/><circle cx="50.70" cy="218.01" r="2.70" fill="#e0566a"/><circle cx="80.34" cy="206.54" r="2.70" fill="#e0566a"/><circle cx="109.98" cy="198.34" r="2.70" fill="#e0566a"/><circle cx="139.62" cy="198.34" r="2.70" fill="#e0566a"/><circle cx="169.26" cy="181.96" r="2.70" fill="#e0566a"/><circle cx="198.90" cy="181.96" r="2.70" fill="#e0566a"/><circle cx="228.54" cy="173.76" r="2.70" fill="#e0566a"/><circle cx="258.18" cy="149.18" r="2.70" fill="#e0566a"/><polyline points="50.70,222.92 80.34,198.34 109.98,190.15 139.62,157.38 169.26,173.76 198.90,198.34 228.54,149.18 258.18,140.99" fill="none" stroke="#b80d22" stroke-width="1.9" stroke-linejoin="round"/><circle cx="50.70" cy="222.92" r="2.70" fill="#b80d22"/><circle cx="80.34" cy="198.34" r="2.70" fill="#b80d22"/><circle cx="109.98" cy="190.15" r="2.70" fill="#b80d22"/><circle cx="139.62" cy="157.38" r="2.70" fill="#b80d22"/><circle cx="169.26" cy="173.76" r="2.70" fill="#b80d22"/><circle cx="198.90" cy="198.34" r="2.70" fill="#b80d22"/><circle cx="228.54" cy="149.18" r="2.70" fill="#b80d22"/><circle cx="258.18" cy="140.99" r="2.70" fill="#b80d22"/><line x1="68.80" y1="276.80" x2="82.80" y2="276.80" stroke="#a6a6a6" stroke-width="1.7000000000000002"/><circle cx="75.80" cy="276.80" r="2.50" fill="#a6a6a6"/><text x="83.80" y="278.90" font-size="6.2" fill="#9a9a9a" textLength="21.5" lengthAdjust="spacingAndGlyphs" font-family="'Liberation Sans', Arial, sans-serif">Series 1</text><line x1="112.40" y1="276.80" x2="126.40" y2="276.80" stroke="#5f5f5f" stroke-width="1.9"/><circle cx="119.40" cy="276.80" r="2.50" fill="#5f5f5f"/><text x="127.40" y="278.90" font-size="6.2" fill="#9a9a9a" textLength="21.5" lengthAdjust="spacingAndGlyphs" font-family="'Liberation Sans', Arial, sans-serif">Series 2</text><line x1="155.90" y1="276.80" x2="169.90" y2="276.80" stroke="#e0566a" stroke-width="1.9"/><circle cx="162.90" cy="276.80" r="2.50" fill="#e0566a"/><text x="170.90" y="278.90" font-size="6.2" fill="#9a9a9a" textLength="21.5" lengthAdjust="spacingAndGlyphs" font-family="'Liberation Sans', Arial, sans-serif">Series 3</text><line x1="199.50" y1="276.80" x2="213.50" y2="276.80" stroke="#b80d22" stroke-width="2.3"/><circle cx="206.50" cy="276.80" r="2.50" fill="#b80d22"/><text x="214.50" y="278.90" font-size="6.2" fill="#9a9a9a" textLength="21.5" lengthAdjust="spacingAndGlyphs" font-family="'Liberation Sans', Arial, sans-serif">Series 4</text><text x="299.75" y="142.90" font-size="13.5" font-weight="bold" fill="#a50f22" textLength="83.4" lengthAdjust="spacingAndGlyphs" font-family="'Liberation Sans', Arial, sans-serif">Add title here</text><text x="299.75" y="161.60" font-size="9.5" fill="#161616" textLength="147.4" lengthAdjust="spacingAndGlyphs" font-family="'Liberation Sans', Arial, sans-serif">Title can be changed by clicking and</text><text x="299.75" y="178.70" font-size="9.5" fill="#161616" textLength="147.4" lengthAdjust="spacingAndGlyphs" font-family="'Liberation Sans', Arial, sans-serif">re-entering, please enter the caption</text><text x="299.75" y="218.80" font-size="13.5" font-weight="bold" fill="#222222" textLength="83.4" lengthAdjust="spacingAndGlyphs" font-family="'Liberation Sans', Arial, sans-serif">Add title here</text><text x="299.75" y="237.60" font-size="9.5" fill="#161616" textLength="147.4" lengthAdjust="spacingAndGlyphs" font-family="'Liberation Sans', Arial, sans-serif">Title can be changed by clicking and</text><text x="299.75" y="254.60" font-size="9.5" fill="#161616" textLength="147.4" lengthAdjust="spacingAndGlyphs" font-family="'Liberation Sans', Arial, sans-serif">re-entering, please enter the caption</text></svg>
<svg class="s" style="left:485px;top:1110px" width="475" height="360" viewBox="0 0 475 360"><rect x="0.00" y="0.00" width="475.00" height="360.00" fill="#f4f4f4"/><defs><filter id="sb39" x="-5%" y="-5%" width="110%" height="110%"><feGaussianBlur stdDeviation="0.9"/></filter></defs><path d="M-10,100.6 L0,98 Q75,72 143,61.1 C200,52 270,49 320,49.5 C380,50.5 440,55 475,63.2 L485,66 L485,320.7 L475,322 C430,328 390,334 359,336.6 C250,342 120,341 0,337 L-10,336.5 Z" fill="#ffffff" filter="url(#sb39)"/><path d="M0,83.7 Q75,68 143,61.1 Q75,72 0,98 Z" fill="#d84a61"/><path d="M359,336.6 C400,331.5 440,326.5 475,322 L475,329.6 C430,332.3 390,334.6 359,336.6 Z" fill="#d84a61"/><text y="38.75" font-size="17" fill="#111111" font-family="'Liberation Sans', Arial, sans-serif"><tspan x="23.1" textLength="46.8" lengthAdjust="spacingAndGlyphs">Please</tspan> <tspan x="75.7" textLength="38.75" lengthAdjust="spacingAndGlyphs">enter</tspan> <tspan x="119.7" textLength="8.2" lengthAdjust="spacingAndGlyphs">a</tspan> <tspan x="132.9" textLength="28.6" lengthAdjust="spacingAndGlyphs">title</tspan> <tspan x="166.4" textLength="33.6" lengthAdjust="spacingAndGlyphs">here</tspan></text><g transform="translate(436,13)"><rect x="0.00" y="0.00" width="23.80" height="30.00" fill="#c30d23"/><path d="M11.6,3.2 C9.0,4.4 5.6,6.6 5.3999999999999995,9 C5.3,11.2 8.2,12.6 11.6,13.4 C15.0,12.6 17.9,11.2 17.8,9 C17.6,6.6 14.2,4.4 11.6,3.2 Z" fill="none" fill="none" stroke="#ffffff" stroke-width="0.95"/><path d="M11.0,19.6 C8.1,21 4.0,20.2 3.1999999999999993,16.8 C3.0,14.8 4.0,13.3 5.0,13.3 C8.0,13.6 10.5,16 11.0,19.6 Z" fill="none" fill="none" stroke="#ffffff" stroke-width="0.95"/><path d="M12.2,19.6 C15.1,21 19.2,20.2 20.0,16.8 C20.2,14.8 19.2,13.3 18.2,13.3 C15.2,13.6 12.7,16 12.2,19.6 Z" fill="none" fill="none" stroke="#ffffff" stroke-width="0.95"/><line x1="11.60" y1="7.20" x2="11.60" y2="22.40" stroke="#ffffff" stroke-width="0.9"/><line x1="4.80" y1="14.60" x2="10.40" y2="19.20" stroke="#ffffff" stroke-width="0.6"/><line x1="18.40" y1="14.60" x2="12.80" y2="19.20" stroke="#ffffff" stroke-width="0.6"/><rect x="3.00" y="23.20" width="17.70" height="5.40" fill="#ffffff"/><rect x="4.2" y="23.8" width="1.3" height="1.6" fill="#c9475a"/><rect x="6.0" y="23.8" width="1.3" height="1.6" fill="#c9475a"/><rect x="7.8" y="23.8" width="1.3" height="1.6" fill="#c9475a"/><rect x="9.6" y="23.8" width="1.3" height="1.6" fill="#c9475a"/><rect x="12.4" y="23.8" width="1.3" height="1.6" fill="#c9475a"/><rect x="14.2" y="23.8" width="1.3" height="1.6" fill="#c9475a"/><rect x="16.0" y="23.8" width="1.3" height="1.6" fill="#c9475a"/><rect x="17.8" y="23.8" width="1.3" height="1.6" fill="#c9475a"/><rect x="4.0" y="26.1" width="1.5" height="1.8" fill="#c9475a"/><rect x="5.9" y="26.1" width="1.5" height="1.8" fill="#c9475a"/><rect x="7.8" y="26.1" width="1.5" height="1.8" fill="#c9475a"/><rect x="9.7" y="26.1" width="1.5" height="1.8" fill="#c9475a"/><rect x="11.6" y="26.1" width="1.5" height="1.8" fill="#c9475a"/><rect x="13.5" y="26.1" width="1.5" height="1.8" fill="#c9475a"/><rect x="15.4" y="26.1" width="1.5" height="1.8" fill="#c9475a"/><rect x="17.3" y="26.1" width="1.5" height="1.8" fill="#c9475a"/></g><rect x="452.60" y="343.40" width="9.90" height="12.00" fill="#ffffff" stroke="#a8a8a8" stroke-width="0.6"/><text x="457.55" y="350.90" font-size="5.6" font-weight="bold" text-anchor="middle" fill="#555555" font-family="'Liberation Sans', Arial, sans-serif">39</text><text x="160.20" y="132.50" font-size="11.2" font-weight="bold" text-anchor="middle" fill="#111111" textLength="115.8" lengthAdjust="spacingAndGlyphs" font-family="'Liberation Sans', Arial, sans-serif">Multi-data bar charts</text><text x="39.20" y="272.00" font-size="6.8" text-anchor="end" fill="#6a6a6a" font-family="'Liberation Sans', Arial, sans-serif">0</text><line x1="42.00" y1="254.10" x2="276.00" y2="254.10" stroke="#efefef" stroke-width="0.6"/><text x="39.20" y="256.50" font-size="6.8" text-anchor="end" fill="#6a6a6a" font-family="'Liberation Sans', Arial, sans-serif">200</text><line x1="42.00" y1="238.60" x2="276.00" y2="238.60" stroke="#efefef" stroke-width="0.6"/><text x="39.20" y="241.00" font-size="6.8" text-anchor="end" fill="#6a6a6a" font-family="'Liberation Sans', Arial, sans-serif">400</text><line x1="42.00" y1="223.10" x2="276.00" y2="223.10" stroke="#efefef" stroke-width="0.6"/><text x="39.20" y="225.50" font-size="6.8" text-anchor="end" fill="#6a6a6a" font-family="'Liberation Sans', Arial, sans-serif">600</text><line x1="42.00" y1="207.60" x2="276.00" y2="207.60" stroke="#efefef" stroke-width="0.6"/><text x="39.20" y="210.00" font-size="6.8" text-anchor="end" fill="#6a6a6a" font-family="'Liberation Sans', Arial, sans-serif">800</text><line x1="42.00" y1="192.10" x2="276.00" y2="192.10" stroke="#efefef" stroke-width="0.6"/><text x="39.20" y="194.50" font-size="6.8" text-anchor="end" fill="#6a6a6a" font-family="'Liberation Sans', Arial, sans-serif">1,000</text><line x1="42.00" y1="176.60" x2="276.00" y2="176.60" stroke="#efefef" stroke-width="0.6"/><text x="39.20" y="179.00" font-size="6.8" text-anchor="end" fill="#6a6a6a" font-family="'Liberation Sans', Arial, sans-serif">1,200</text><line x1="42.00" y1="161.10" x2="276.00" y2="161.10" stroke="#efefef" stroke-width="0.6"/><text x="39.20" y="163.50" font-size="6.8" text-anchor="end" fill="#6a6a6a" font-family="'Liberation Sans', Arial, sans-serif">1,400</text><line x1="42.00" y1="145.60" x2="276.00" y2="145.60" stroke="#efefef" stroke-width="0.6"/><text x="39.20" y="148.00" font-size="6.8" text-anchor="end" fill="#6a6a6a" font-family="'Liberation Sans', Arial, sans-serif">1,600</text><rect x="45.90" y="207.60" width="4.90" height="62.00" fill="#b50a1b"/><text x="48.40" y="278.60" font-size="6" text-anchor="middle" fill="#6a6a6a" font-family="'Liberation Sans', Arial, sans-serif">1</text><rect x="53.31" y="199.85" width="4.90" height="69.75" fill="#b50a1b"/><text x="55.81" y="278.60" font-size="6" text-anchor="middle" fill="#6a6a6a" font-family="'Liberation Sans', Arial, sans-serif">2</text><rect x="60.72" y="207.60" width="4.90" height="62.00" fill="#b50a1b"/><text x="63.22" y="278.60" font-size="6" text-anchor="middle" fill="#6a6a6a" font-family="'Liberation Sans', Arial, sans-serif">3</text><rect x="68.13" y="195.98" width="4.90" height="73.63" fill="#b50a1b"/><text x="70.63" y="278.60" font-size="6" text-anchor="middle" fill="#6a6a6a" font-family="'Liberation Sans', Arial, sans-serif">4</text><rect x="75.54" y="190.55" width="4.90" height="79.05" fill="#b50a1b"/><text x="78.04" y="278.60" font-size="6" text-anchor="middle" fill="#6a6a6a" font-family="'Liberation Sans', Arial, sans-serif">5</text><rect x="82.95" y="215.35" width="4.90" height="54.25" fill="#b50a1b"/><text x="85.45" y="278.60" font-size="6" text-anchor="middle" fill="#6a6a6a" font-family="'Liberation Sans', Arial, sans-serif">6</text><rect x="90.36" y="223.10" width="4.90" height="46.50" fill="#b50a1b"/><text x="92.86" y="278.60" font-size="6" text-anchor="middle" fill="#6a6a6a" font-family="'Liberation Sans', Arial, sans-serif">7</text><rect x="97.77" y="176.60" width="4.90" height="93.00" fill="#b50a1b"/><text x="100.27" y="278.60" font-size="6" text-anchor="middle" fill="#6a6a6a" font-family="'Liberation Sans', Arial, sans-serif">8</text><rect x="105.18" y="193.65" width="4.90" height="75.95" fill="#b50a1b"/><text x="107.68" y="278.60" font-size="6" text-anchor="middle" fill="#6a6a6a" font-family="'Liberation Sans', Arial, sans-serif">9</text><rect x="112.59" y="200.62" width="4.90" height="68.98" fill="#b50a1b"/><text x="115.09" y="278.60" font-size="6" text-anchor="middle" fill="#6a6a6a" font-family="'Liberation Sans', Arial, sans-serif">10</text><rect x="120.00" y="209.93" width="4.90" height="59.68" fill="#b50a1b"/><text x="122.50" y="278.60" font-size="6" text-anchor="middle" fill="#6a6a6a" font-family="'Liberation Sans', Arial, sans-serif">11</text><rect x="127.41" y="215.35" width="4.90" height="54.25" fill="#b50a1b"/><text x="129.91" y="278.60" font-size="6" text-anchor="middle" fill="#6a6a6a" font-family="'Liberation Sans', Arial, sans-serif">12</text><rect x="134.82" y="200.62" width="4.90" height="68.98" fill="#b50a1b"/><text x="137.32" y="278.60" font-size="6" text-anchor="middle" fill="#6a6a6a" font-family="'Liberation Sans', Arial, sans-serif">13</text><rect x="142.23" y="200.62" width="4.90" height="68.98" fill="#b50a1b"/><text x="144.73" y="278.60" font-size="6" text-anchor="middle" fill="#6a6a6a" font-family="'Liberation Sans', Arial, sans-serif">14</text><rect x="149.64" y="192.10" width="4.90" height="77.50" fill="#b50a1b"/><text x="152.14" y="278.60" font-size="6" text-anchor="middle" fill="#6a6a6a" font-family="'Liberation Sans', Arial, sans-serif">15</text><rect x="157.05" y="184.35" width="4.90" height="85.25" fill="#b50a1b"/><text x="159.55" y="278.60" font-size="6" text-anchor="middle" fill="#6a6a6a" font-family="'Liberation Sans', Arial, sans-serif">16</text><rect x="164.46" y="199.85" width="4.90" height="69.75" fill="#b50a1b"/><text x="166.96" y="278.60" font-size="6" text-anchor="middle" fill="#6a6a6a" font-family="'Liberation Sans', Arial, sans-serif">17</text><rect x="171.87" y="199.85" width="4.90" height="69.75" fill="#b50a1b"/><text x="174.37" y="278.60" font-size="6" text-anchor="middle" fill="#6a6a6a" font-family="'Liberation Sans', Arial, sans-serif">18</text><rect x="179.28" y="201.40" width="4.90" height="68.20" fill="#b50a1b"/><text x="181.78" y="278.60" font-size="6" text-anchor="middle" fill="#6a6a6a" font-family="'Liberation Sans', Arial, sans-serif">19</text><rect x="186.69" y="199.85" width="4.90" height="69.75" fill="#b50a1b"/><text x="189.19" y="278.60" font-size="6" text-anchor="middle" fill="#6a6a6a" font-family="'Liberation Sans', Arial, sans-serif">20</text><rect x="194.10" y="215.35" width="4.90" height="54.25" fill="#b50a1b"/><text x="196.60" y="278.60" font-size="6" text-anchor="middle" fill="#6a6a6a" font-family="'Liberation Sans', Arial, sans-serif">21</text><rect x="201.51" y="176.60" width="4.90" height="93.00" fill="#b50a1b"/><text x="204.01" y="278.60" font-size="6" text-anchor="middle" fill="#6a6a6a" font-family="'Liberation Sans', Arial, sans-serif">22</text><rect x="208.92" y="168.85" width="4.90" height="100.75" fill="#b50a1b"/><text x="211.42" y="278.60" font-size="6" text-anchor="middle" fill="#6a6a6a" font-family="'Liberation Sans', Arial, sans-serif">23</text><rect x="216.33" y="157.23" width="4.90" height="112.38" fill="#b50a1b"/><text x="218.83" y="278.60" font-size="6" text-anchor="middle" fill="#6a6a6a" font-family="'Liberation Sans', Arial, sans-serif">24</text><rect x="223.74" y="168.85" width="4.90" height="100.75" fill="#b50a1b"/><text x="226.24" y="278.60" font-size="6" text-anchor="middle" fill="#6a6a6a" font-family="'Liberation Sans', Arial, sans-serif">25</text><rect x="231.15" y="207.60" width="4.90" height="62.00" fill="#b50a1b"/><text x="233.65" y="278.60" font-size="6" text-anchor="middle" fill="#6a6a6a" font-family="'Liberation Sans', Arial, sans-serif">26</text><rect x="238.56" y="195.20" width="4.90" height="74.40" fill="#b50a1b"/><text x="241.06" y="278.60" font-size="6" text-anchor="middle" fill="#6a6a6a" font-family="'Liberation Sans', Arial, sans-serif">27</text><rect x="245.97" y="194.43" width="4.90" height="75.18" fill="#b50a1b"/><text x="248.47" y="278.60" font-size="6" text-anchor="middle" fill="#6a6a6a" font-family="'Liberation Sans', Arial, sans-serif">28</text><rect x="253.38" y="218.45" width="4.90" height="51.15" fill="#b50a1b"/><text x="255.88" y="278.60" font-size="6" text-anchor="middle" fill="#6a6a6a" font-family="'Liberation Sans', Arial, sans-serif">29</text><rect x="260.79" y="223.88" width="4.90" height="45.73" fill="#b50a1b"/><text x="263.29" y="278.60" font-size="6" text-anchor="middle" fill="#6a6a6a" font-family="'Liberation Sans', Arial, sans-serif">30</text><rect x="268.20" y="202.18" width="4.90" height="67.43" fill="#b50a1b"/><text x="270.70" y="278.60" font-size="6" text-anchor="middle" fill="#6a6a6a" font-family="'Liberation Sans', Arial, sans-serif">31</text><line x1="42.00" y1="269.60" x2="276.00" y2="269.60" stroke="#d9d9d9" stroke-width="0.6"/><text x="299.75" y="142.90" font-size="13.5" font-weight="bold" fill="#a50f22" textLength="83.4" lengthAdjust="spacingAndGlyphs" font-family="'Liberation Sans', Arial, sans-serif">Add title here</text><text x="299.75" y="161.60" font-size="9.5" fill="#161616" textLength="147.4" lengthAdjust="spacingAndGlyphs" font-family="'Liberation Sans', Arial, sans-serif">Title can be changed by clicking and</text><text x="299.75" y="178.70" font-size="9.5" fill="#161616" textLength="147.4" lengthAdjust="spacingAndGlyphs" font-family="'Liberation Sans', Arial, sans-serif">re-entering, please enter the caption</text><text x="299.75" y="218.80" font-size="13.5" font-weight="bold" fill="#222222" textLength="83.4" lengthAdjust="spacingAndGlyphs" font-family="'Liberation Sans', Arial, sans-serif">Add title here</text><text x="299.75" y="237.60" font-size="9.5" fill="#161616" textLength="147.4" lengthAdjust="spacingAndGlyphs" font-family="'Liberation Sans', Arial, sans-serif">Title can be changed by clicking and</text><text x="299.75" y="254.60" font-size="9.5" fill="#161616" textLength="147.4" lengthAdjust="spacingAndGlyphs" font-family="'Liberation Sans', Arial, sans-serif">re-entering, please enter the caption</text></svg>
<svg class="s" style="left:0px;top:1480px" width="475" height="360" viewBox="0 0 475 360"><rect x="0.00" y="0.00" width="475.00" height="360.00" fill="#f4f4f4"/><defs><filter id="sb20" x="-5%" y="-5%" width="110%" height="110%"><feGaussianBlur stdDeviation="0.9"/></filter></defs><path d="M-10,100.6 L0,98 Q75,72 143,61.1 C200,52 270,49 320,49.5 C380,50.5 440,55 475,63.2 L485,66 L485,320.7 L475,322 C430,328 390,334 359,336.6 C250,342 120,341 0,337 L-10,336.5 Z" fill="#ffffff" filter="url(#sb20)"/><path d="M0,83.7 Q75,68 143,61.1 Q75,72 0,98 Z" fill="#d84a61"/><path d="M359,336.6 C400,331.5 440,326.5 475,322 L475,329.6 C430,332.3 390,334.6 359,336.6 Z" fill="#d84a61"/><text y="38.75" font-size="17" fill="#111111" font-family="'Liberation Sans', Arial, sans-serif"><tspan x="23.1" textLength="46.8" lengthAdjust="spacingAndGlyphs">Please</tspan> <tspan x="75.7" textLength="38.75" lengthAdjust="spacingAndGlyphs">enter</tspan> <tspan x="119.7" textLength="8.2" lengthAdjust="spacingAndGlyphs">a</tspan> <tspan x="132.9" textLength="28.6" lengthAdjust="spacingAndGlyphs">title</tspan> <tspan x="166.4" textLength="33.6" lengthAdjust="spacingAndGlyphs">here</tspan></text><g transform="translate(436,13)"><rect x="0.00" y="0.00" width="23.80" height="30.00" fill="#c30d23"/><path d="M11.6,3.2 C9.0,4.4 5.6,6.6 5.3999999999999995,9 C5.3,11.2 8.2,12.6 11.6,13.4 C15.0,12.6 17.9,11.2 17.8,9 C17.6,6.6 14.2,4.4 11.6,3.2 Z" fill="none" fill="none" stroke="#ffffff" stroke-width="0.95"/><path d="M11.0,19.6 C8.1,21 4.0,20.2 3.1999999999999993,16.8 C3.0,14.8 4.0,13.3 5.0,13.3 C8.0,13.6 10.5,16 11.0,19.6 Z" fill="none" fill="none" stroke="#ffffff" stroke-width="0.95"/><path d="M12.2,19.6 C15.1,21 19.2,20.2 20.0,16.8 C20.2,14.8 19.2,13.3 18.2,13.3 C15.2,13.6 12.7,16 12.2,19.6 Z" fill="none" fill="none" stroke="#ffffff" stroke-width="0.95"/><line x1="11.60" y1="7.20" x2="11.60" y2="22.40" stroke="#ffffff" stroke-width="0.9"/><line x1="4.80" y1="14.60" x2="10.40" y2="19.20" stroke="#ffffff" stroke-width="0.6"/><line x1="18.40" y1="14.60" x2="12.80" y2="19.20" stroke="#ffffff" stroke-width="0.6"/><rect x="3.00" y="23.20" width="17.70" height="5.40" fill="#ffffff"/><rect x="4.2" y="23.8" width="1.3" height="1.6" fill="#c9475a"/><rect x="6.0" y="23.8" width="1.3" height="1.6" fill="#c9475a"/><rect x="7.8" y="23.8" width="1.3" height="1.6" fill="#c9475a"/><rect x="9.6" y="23.8" width="1.3" height="1.6" fill="#c9475a"/><rect x="12.4" y="23.8" width="1.3" height="1.6" fill="#c9475a"/><rect x="14.2" y="23.8" width="1.3" height="1.6" fill="#c9475a"/><rect x="16.0" y="23.8" width="1.3" height="1.6" fill="#c9475a"/><rect x="17.8" y="23.8" width="1.3" height="1.6" fill="#c9475a"/><rect x="4.0" y="26.1" width="1.5" height="1.8" fill="#c9475a"/><rect x="5.9" y="26.1" width="1.5" height="1.8" fill="#c9475a"/><rect x="7.8" y="26.1" width="1.5" height="1.8" fill="#c9475a"/><rect x="9.7" y="26.1" width="1.5" height="1.8" fill="#c9475a"/><rect x="11.6" y="26.1" width="1.5" height="1.8" fill="#c9475a"/><rect x="13.5" y="26.1" width="1.5" height="1.8" fill="#c9475a"/><rect x="15.4" y="26.1" width="1.5" height="1.8" fill="#c9475a"/><rect x="17.3" y="26.1" width="1.5" height="1.8" fill="#c9475a"/></g><rect x="452.60" y="343.40" width="9.90" height="12.00" fill="#ffffff" stroke="#a8a8a8" stroke-width="0.6"/><text x="457.55" y="350.90" font-size="5.6" font-weight="bold" text-anchor="middle" fill="#555555" font-family="'Liberation Sans', Arial, sans-serif">20</text><text x="157.90" y="120.90" font-size="12.2" font-weight="bold" fill="#111111" textLength="158.9" lengthAdjust="spacingAndGlyphs" font-family="'Liberation Sans', Arial, sans-serif">Line chart data analysis tool</text><line x1="46.00" y1="270.50" x2="447.00" y2="270.50" stroke="#f0f0f0" stroke-width="0.6"/><text x="40.00" y="272.70" font-size="6.2" text-anchor="end" fill="#707070" font-family="'Liberation Sans', Arial, sans-serif">0</text><line x1="46.00" y1="260.23" x2="447.00" y2="260.23" stroke="#f0f0f0" stroke-width="0.6"/><text x="40.00" y="262.43" font-size="6.2" text-anchor="end" fill="#707070" font-family="'Liberation Sans', Arial, sans-serif">20</text><line x1="46.00" y1="249.95" x2="447.00" y2="249.95" stroke="#f0f0f0" stroke-width="0.6"/><text x="40.00" y="252.15" font-size="6.2" text-anchor="end" fill="#707070" font-family="'Liberation Sans', Arial, sans-serif">40</text><line x1="46.00" y1="239.68" x2="447.00" y2="239.68" stroke="#f0f0f0" stroke-width="0.6"/><text x="40.00" y="241.88" font-size="6.2" text-anchor="end" fill="#707070" font-family="'Liberation Sans', Arial, sans-serif">60</text><line x1="46.00" y1="229.41" x2="447.00" y2="229.41" stroke="#f0f0f0" stroke-width="0.6"/><text x="40.00" y="231.61" font-size="6.2" text-anchor="end" fill="#707070" font-family="'Liberation Sans', Arial, sans-serif">80</text><line x1="46.00" y1="219.14" x2="447.00" y2="219.14" stroke="#f0f0f0" stroke-width="0.6"/><text x="40.00" y="221.34" font-size="6.2" text-anchor="end" fill="#707070" font-family="'Liberation Sans', Arial, sans-serif">100</text><line x1="46.00" y1="208.86" x2="447.00" y2="208.86" stroke="#f0f0f0" stroke-width="0.6"/><text x="40.00" y="211.06" font-size="6.2" text-anchor="end" fill="#707070" font-family="'Liberation Sans', Arial, sans-serif">120</text><line x1="46.00" y1="198.59" x2="447.00" y2="198.59" stroke="#f0f0f0" stroke-width="0.6"/><text x="40.00" y="200.79" font-size="6.2" text-anchor="end" fill="#707070" font-family="'Liberation Sans', Arial, sans-serif">140</text><line x1="46.00" y1="188.32" x2="447.00" y2="188.32" stroke="#f0f0f0" stroke-width="0.6"/><text x="40.00" y="190.52" font-size="6.2" text-anchor="end" fill="#707070" font-family="'Liberation Sans', Arial, sans-serif">160</text><line x1="46.00" y1="178.05" x2="447.00" y2="178.05" stroke="#f0f0f0" stroke-width="0.6"/><text x="40.00" y="180.25" font-size="6.2" text-anchor="end" fill="#707070" font-family="'Liberation Sans', Arial, sans-serif">180</text><line x1="46.00" y1="167.77" x2="447.00" y2="167.77" stroke="#f0f0f0" stroke-width="0.6"/><text x="40.00" y="169.97" font-size="6.2" text-anchor="end" fill="#707070" font-family="'Liberation Sans', Arial, sans-serif">200</text><line x1="46.00" y1="157.50" x2="447.00" y2="157.50" stroke="#f0f0f0" stroke-width="0.6"/><text x="40.00" y="159.70" font-size="6.2" text-anchor="end" fill="#707070" font-family="'Liberation Sans', Arial, sans-serif">220</text><text x="63.00" y="279.40" font-size="6.6" text-anchor="middle" fill="#707070" font-family="'Liberation Sans', Arial, sans-serif">Data1</text><text x="96.30" y="279.40" font-size="6.6" text-anchor="middle" fill="#707070" font-family="'Liberation Sans', Arial, sans-serif">Data2</text><text x="129.60" y="279.40" font-size="6.6" text-anchor="middle" fill="#707070" font-family="'Liberation Sans', Arial, sans-serif">Data3</text><text x="162.90" y="279.40" font-size="6.6" text-anchor="middle" fill="#707070" font-family="'Liberation Sans', Arial, sans-serif">Data4</text><text x="196.20" y="279.40" font-size="6.6" text-anchor="middle" fill="#707070" font-family="'Liberation Sans', Arial, sans-serif">Data5</text><text x="229.50" y="279.40" font-size="6.6" text-anchor="middle" fill="#707070" font-family="'Liberation Sans', Arial, sans-serif">Data6</text><text x="262.80" y="279.40" font-size="6.6" text-anchor="middle" fill="#707070" font-family="'Liberation Sans', Arial, sans-serif">Data7</text><text x="296.10" y="279.40" font-size="6.6" text-anchor="middle" fill="#707070" font-family="'Liberation Sans', Arial, sans-serif">Data8</text><text x="329.40" y="279.40" font-size="6.6" text-anchor="middle" fill="#707070" font-family="'Liberation Sans', Arial, sans-serif">Data9</text><text x="362.70" y="279.40" font-size="6.6" text-anchor="middle" fill="#707070" font-family="'Liberation Sans', Arial, sans-serif">Data10</text><text x="396.00" y="279.40" font-size="6.6" text-anchor="middle" fill="#707070" font-family="'Liberation Sans', Arial, sans-serif">Data11</text><text x="429.30" y="279.40" font-size="6.6" text-anchor="middle" fill="#707070" font-family="'Liberation Sans', Arial, sans-serif">Data12</text><polyline points="63.00,270.50 96.30,219.14 129.60,255.09 162.90,224.27 196.20,249.95 229.50,219.14 262.80,247.39 296.10,239.68 329.40,229.41 362.70,239.68 396.00,249.95 429.30,229.41" fill="none" stroke="#666666" stroke-width="1.9" stroke-linejoin="round"/><polyline points="63.00,270.50 96.30,255.09 129.60,167.77 162.90,208.86 196.20,188.32 229.50,255.09 262.80,219.14 296.10,193.45 329.40,172.91 362.70,188.32 396.00,208.86 429.30,188.32" fill="none" stroke="#b00c20" stroke-width="1.9" stroke-linejoin="round"/><circle cx="63.00" cy="270.50" r="4.00" fill="#ffffff" stroke="#666666" stroke-width="1.8"/><circle cx="96.30" cy="219.14" r="4.00" fill="#ffffff" stroke="#666666" stroke-width="1.8"/><circle cx="129.60" cy="255.09" r="4.00" fill="#ffffff" stroke="#666666" stroke-width="1.8"/><circle cx="162.90" cy="224.27" r="4.00" fill="#ffffff" stroke="#666666" stroke-width="1.8"/><circle cx="196.20" cy="249.95" r="4.00" fill="#ffffff" stroke="#666666" stroke-width="1.8"/><circle cx="229.50" cy="219.14" r="4.00" fill="#ffffff" stroke="#666666" stroke-width="1.8"/><circle cx="262.80" cy="247.39" r="4.00" fill="#ffffff" stroke="#666666" stroke-width="1.8"/><circle cx="296.10" cy="239.68" r="4.00" fill="#ffffff" stroke="#666666" stroke-width="1.8"/><circle cx="329.40" cy="229.41" r="4.00" fill="#ffffff" stroke="#666666" stroke-width="1.8"/><circle cx="362.70" cy="239.68" r="4.00" fill="#ffffff" stroke="#666666" stroke-width="1.8"/><circle cx="396.00" cy="249.95" r="4.00" fill="#ffffff" stroke="#666666" stroke-width="1.8"/><circle cx="429.30" cy="229.41" r="4.00" fill="#ffffff" stroke="#666666" stroke-width="1.8"/><circle cx="63.00" cy="270.50" r="4.00" fill="#ffffff" stroke="#b00c20" stroke-width="1.8"/><circle cx="96.30" cy="255.09" r="4.00" fill="#ffffff" stroke="#b00c20" stroke-width="1.8"/><circle cx="129.60" cy="167.77" r="4.00" fill="#ffffff" stroke="#b00c20" stroke-width="1.8"/><circle cx="162.90" cy="208.86" r="4.00" fill="#ffffff" stroke="#b00c20" stroke-width="1.8"/><circle cx="196.20" cy="188.32" r="4.00" fill="#ffffff" stroke="#b00c20" stroke-width="1.8"/><circle cx="229.50" cy="255.09" r="4.00" fill="#ffffff" stroke="#b00c20" stroke-width="1.8"/><circle cx="262.80" cy="219.14" r="4.00" fill="#ffffff" stroke="#b00c20" stroke-width="1.8"/><circle cx="296.10" cy="193.45" r="4.00" fill="#ffffff" stroke="#b00c20" stroke-width="1.8"/><circle cx="329.40" cy="172.91" r="4.00" fill="#ffffff" stroke="#b00c20" stroke-width="1.8"/><circle cx="362.70" cy="188.32" r="4.00" fill="#ffffff" stroke="#b00c20" stroke-width="1.8"/><circle cx="396.00" cy="208.86" r="4.00" fill="#ffffff" stroke="#b00c20" stroke-width="1.8"/><circle cx="429.30" cy="188.32" r="4.00" fill="#ffffff" stroke="#b00c20" stroke-width="1.8"/><line x1="186.80" y1="135.30" x2="198.80" y2="135.30" stroke="#666666" stroke-width="1.7"/><circle cx="192.80" cy="135.30" r="2.80" fill="#ffffff" stroke="#666666" stroke-width="1.6"/><text x="201.50" y="138.40" font-size="8.8" fill="#333333" textLength="22.0" lengthAdjust="spacingAndGlyphs" font-family="'Liberation Sans', Arial, sans-serif">Item1</text><line x1="251.40" y1="135.30" x2="263.40" y2="135.30" stroke="#b00c20" stroke-width="1.7"/><circle cx="257.40" cy="135.30" r="2.80" fill="#ffffff" stroke="#b00c20" stroke-width="1.6"/><text x="265.00" y="138.40" font-size="8.8" fill="#333333" textLength="22.0" lengthAdjust="spacingAndGlyphs" font-family="'Liberation Sans', Arial, sans-serif">Item2</text></svg>
<svg class="s" style="left:485px;top:1480px" width="475" height="360" viewBox="0 0 475 360"><rect x="0.00" y="0.00" width="475.00" height="360.00" fill="#f4f4f4"/><defs><filter id="sb21" x="-5%" y="-5%" width="110%" height="110%"><feGaussianBlur stdDeviation="0.9"/></filter></defs><path d="M-10,100.6 L0,98 Q75,72 143,61.1 C200,52 270,49 320,49.5 C380,50.5 440,55 475,63.2 L485,66 L485,320.7 L475,322 C430,328 390,334 359,336.6 C250,342 120,341 0,337 L-10,336.5 Z" fill="#ffffff" filter="url(#sb21)"/><path d="M0,83.7 Q75,68 143,61.1 Q75,72 0,98 Z" fill="#d84a61"/><path d="M359,336.6 C400,331.5 440,326.5 475,322 L475,329.6 C430,332.3 390,334.6 359,336.6 Z" fill="#d84a61"/><text y="38.75" font-size="17" fill="#111111" font-family="'Liberation Sans', Arial, sans-serif"><tspan x="23.1" textLength="46.8" lengthAdjust="spacingAndGlyphs">Please</tspan> <tspan x="75.7" textLength="38.75" lengthAdjust="spacingAndGlyphs">enter</tspan> <tspan x="119.7" textLength="8.2" lengthAdjust="spacingAndGlyphs">a</tspan> <tspan x="132.9" textLength="28.6" lengthAdjust="spacingAndGlyphs">title</tspan> <tspan x="166.4" textLength="33.6" lengthAdjust="spacingAndGlyphs">here</tspan></text><g transform="translate(436,13)"><rect x="0.00" y="0.00" width="23.80" height="30.00" fill="#c30d23"/><path d="M11.6,3.2 C9.0,4.4 5.6,6.6 5.3999999999999995,9 C5.3,11.2 8.2,12.6 11.6,13.4 C15.0,12.6 17.9,11.2 17.8,9 C17.6,6.6 14.2,4.4 11.6,3.2 Z" fill="none" fill="none" stroke="#ffffff" stroke-width="0.95"/><path d="M11.0,19.6 C8.1,21 4.0,20.2 3.1999999999999993,16.8 C3.0,14.8 4.0,13.3 5.0,13.3 C8.0,13.6 10.5,16 11.0,19.6 Z" fill="none" fill="none" stroke="#ffffff" stroke-width="0.95"/><path d="M12.2,19.6 C15.1,21 19.2,20.2 20.0,16.8 C20.2,14.8 19.2,13.3 18.2,13.3 C15.2,13.6 12.7,16 12.2,19.6 Z" fill="none" fill="none" stroke="#ffffff" stroke-width="0.95"/><line x1="11.60" y1="7.20" x2="11.60" y2="22.40" stroke="#ffffff" stroke-width="0.9"/><line x1="4.80" y1="14.60" x2="10.40" y2="19.20" stroke="#ffffff" stroke-width="0.6"/><line x1="18.40" y1="14.60" x2="12.80" y2="19.20" stroke="#ffffff" stroke-width="0.6"/><rect x="3.00" y="23.20" width="17.70" height="5.40" fill="#ffffff"/><rect x="4.2" y="23.8" width="1.3" height="1.6" fill="#c9475a"/><rect x="6.0" y="23.8" width="1.3" height="1.6" fill="#c9475a"/><rect x="7.8" y="23.8" width="1.3" height="1.6" fill="#c9475a"/><rect x="9.6" y="23.8" width="1.3" height="1.6" fill="#c9475a"/><rect x="12.4" y="23.8" width="1.3" height="1.6" fill="#c9475a"/><rect x="14.2" y="23.8" width="1.3" height="1.6" fill="#c9475a"/><rect x="16.0" y="23.8" width="1.3" height="1.6" fill="#c9475a"/><rect x="17.8" y="23.8" width="1.3" height="1.6" fill="#c9475a"/><rect x="4.0" y="26.1" width="1.5" height="1.8" fill="#c9475a"/><rect x="5.9" y="26.1" width="1.5" height="1.8" fill="#c9475a"/><rect x="7.8" y="26.1" width="1.5" height="1.8" fill="#c9475a"/><rect x="9.7" y="26.1" width="1.5" height="1.8" fill="#c9475a"/><rect x="11.6" y="26.1" width="1.5" height="1.8" fill="#c9475a"/><rect x="13.5" y="26.1" width="1.5" height="1.8" fill="#c9475a"/><rect x="15.4" y="26.1" width="1.5" height="1.8" fill="#c9475a"/><rect x="17.3" y="26.1" width="1.5" height="1.8" fill="#c9475a"/></g><rect x="452.60" y="343.40" width="9.90" height="12.00" fill="#ffffff" stroke="#a8a8a8" stroke-width="0.6"/><text x="457.55" y="350.90" font-size="5.6" font-weight="bold" text-anchor="middle" fill="#555555" font-family="'Liberation Sans', Arial, sans-serif">21</text><polyline points="157.9,150 178,150 178,117.2 198.3,117.2" fill="none" stroke="#8c8c8c" stroke-width="0.9" stroke-dasharray="2.4,1.6"/><polyline points="157.9,159.2 198.3,159.2" fill="none" stroke="#8c8c8c" stroke-width="0.9" stroke-dasharray="2.4,1.6"/><polyline points="157.9,168.3 178,168.3 178,202.1 198.3,202.1" fill="none" stroke="#8c8c8c" stroke-width="0.9" stroke-dasharray="2.4,1.6"/><polyline points="290,116.25 310,116.25" fill="none" stroke="#8c8c8c" stroke-width="0.9" stroke-dasharray="2.4,1.6"/><polyline points="310,100.4 310,131.7" fill="none" stroke="#8c8c8c" stroke-width="0.9" stroke-dasharray="2.4,1.6"/><polyline points="310,100.4 330,100.4" fill="none" stroke="#8c8c8c" stroke-width="0.9" stroke-dasharray="2.4,1.6"/><polyline points="310,131.7 330,131.7" fill="none" stroke="#8c8c8c" stroke-width="0.9" stroke-dasharray="2.4,1.6"/><polyline points="290,202.1 310,202.1" fill="none" stroke="#8c8c8c" stroke-width="0.9" stroke-dasharray="2.4,1.6"/><polyline points="310,185.2 310,216.85" fill="none" stroke="#8c8c8c" stroke-width="0.9" stroke-dasharray="2.4,1.6"/><polyline points="310,185.2 330,185.2" fill="none" stroke="#8c8c8c" stroke-width="0.9" stroke-dasharray="2.4,1.6"/><polyline points="310,216.85 330,216.85" fill="none" stroke="#8c8c8c" stroke-width="0.9" stroke-dasharray="2.4,1.6"/><circle cx="198.30" cy="117.20" r="1.30" fill="#8c8c8c"/><circle cx="198.30" cy="159.20" r="1.30" fill="#8c8c8c"/><circle cx="198.30" cy="202.10" r="1.30" fill="#8c8c8c"/><circle cx="330.00" cy="100.40" r="1.30" fill="#8c8c8c"/><circle cx="330.00" cy="131.70" r="1.30" fill="#8c8c8c"/><circle cx="330.00" cy="185.20" r="1.30" fill="#8c8c8c"/><circle cx="330.00" cy="216.85" r="1.30" fill="#8c8c8c"/><rect x="46.25" y="141.25" width="111.65" height="35.45" fill="#c00b20" rx="2"/><path d="M62.9,159.4 L72.1,150.3 L81.6,159.7" fill="none" stroke="#ffffff" stroke-width="1.9"/><rect x="76.10" y="150.90" width="2.20" height="5.00" fill="#ffffff"/><path d="M64.8,160.9 L72.1,153.6 L79.1,160.9 L79.1,169.7 L64.8,169.7 Z" fill="#ffffff"/><rect x="70.30" y="163.10" width="3.70" height="6.60" fill="#a30f20"/><text x="91.30" y="162.90" font-size="10" font-weight="bold" fill="#ffffff" textLength="49.0" lengthAdjust="spacingAndGlyphs" font-family="'Liberation Sans', Arial, sans-serif">Enter text</text><rect x="198.30" y="101.70" width="91.70" height="29.10" fill="#cb3a4d" rx="2"/><text x="244.10" y="120.80" font-size="12" font-weight="bold" text-anchor="middle" fill="#ffffff" textLength="53.4" lengthAdjust="spacingAndGlyphs" font-family="'Liberation Sans', Arial, sans-serif">Enter text</text><rect x="198.30" y="144.60" width="91.70" height="29.10" fill="#cb3a4d" rx="2"/><text x="244.10" y="163.70" font-size="12" font-weight="bold" text-anchor="middle" fill="#ffffff" textLength="53.4" lengthAdjust="spacingAndGlyphs" font-family="'Liberation Sans', Arial, sans-serif">Enter text</text><rect x="198.30" y="187.50" width="91.70" height="29.10" fill="#cb3a4d" rx="2"/><text x="244.10" y="206.60" font-size="12" font-weight="bold" text-anchor="middle" fill="#ffffff" textLength="53.4" lengthAdjust="spacingAndGlyphs" font-family="'Liberation Sans', Arial, sans-serif">Enter text</text><rect x="330.00" y="90.40" width="91.70" height="20.00" fill="#a4a4a4" rx="1.5"/><text x="375.85" y="104.30" font-size="10.5" font-weight="bold" text-anchor="middle" fill="#ffffff" textLength="53.0" lengthAdjust="spacingAndGlyphs" font-family="'Liberation Sans', Arial, sans-serif">Enter text</text><rect x="330.00" y="121.70" width="91.70" height="20.00" fill="#a4a4a4" rx="1.5"/><text x="375.85" y="135.60" font-size="10.5" font-weight="bold" text-anchor="middle" fill="#ffffff" textLength="53.0" lengthAdjust="spacingAndGlyphs" font-family="'Liberation Sans', Arial, sans-serif">Enter text</text><rect x="330.00" y="175.00" width="91.70" height="20.40" fill="#a4a4a4" rx="1.5"/><text x="375.85" y="189.10" font-size="10.5" font-weight="bold" text-anchor="middle" fill="#ffffff" textLength="53.0" lengthAdjust="spacingAndGlyphs" font-family="'Liberation Sans', Arial, sans-serif">Enter text</text><rect x="330.00" y="207.00" width="91.70" height="19.70" fill="#a4a4a4" rx="1.5"/><text x="375.85" y="220.75" font-size="10.5" font-weight="bold" text-anchor="middle" fill="#ffffff" textLength="53.0" lengthAdjust="spacingAndGlyphs" font-family="'Liberation Sans', Arial, sans-serif">Enter text</text><text x="46.25" y="261.40" font-size="13.5" font-weight="bold" fill="#a50f22" textLength="83.7" lengthAdjust="spacingAndGlyphs" font-family="'Liberation Sans', Arial, sans-serif">Add title here</text><text x="46.25" y="280.50" font-size="9.5" fill="#161616" textLength="148.0" lengthAdjust="spacingAndGlyphs" font-family="'Liberation Sans', Arial, sans-serif">Title can be changed by clicking and</text><text x="46.25" y="296.20" font-size="9.5" fill="#161616" textLength="148.0" lengthAdjust="spacingAndGlyphs" font-family="'Liberation Sans', Arial, sans-serif">re-entering, please enter the caption</text><text x="230.00" y="261.40" font-size="13.5" font-weight="bold" fill="#a50f22" textLength="83.7" lengthAdjust="spacingAndGlyphs" font-family="'Liberation Sans', Arial, sans-serif">Add title here</text><text x="230.00" y="280.50" font-size="9.5" fill="#161616" textLength="148.0" lengthAdjust="spacingAndGlyphs" font-family="'Liberation Sans', Arial, sans-serif">Title can be changed by clicking and</text><text x="230.00" y="296.20" font-size="9.5" fill="#161616" textLength="148.0" lengthAdjust="spacingAndGlyphs" font-family="'Liberation Sans', Arial, sans-serif">re-entering, please enter the caption</text></svg>
</body></html>
